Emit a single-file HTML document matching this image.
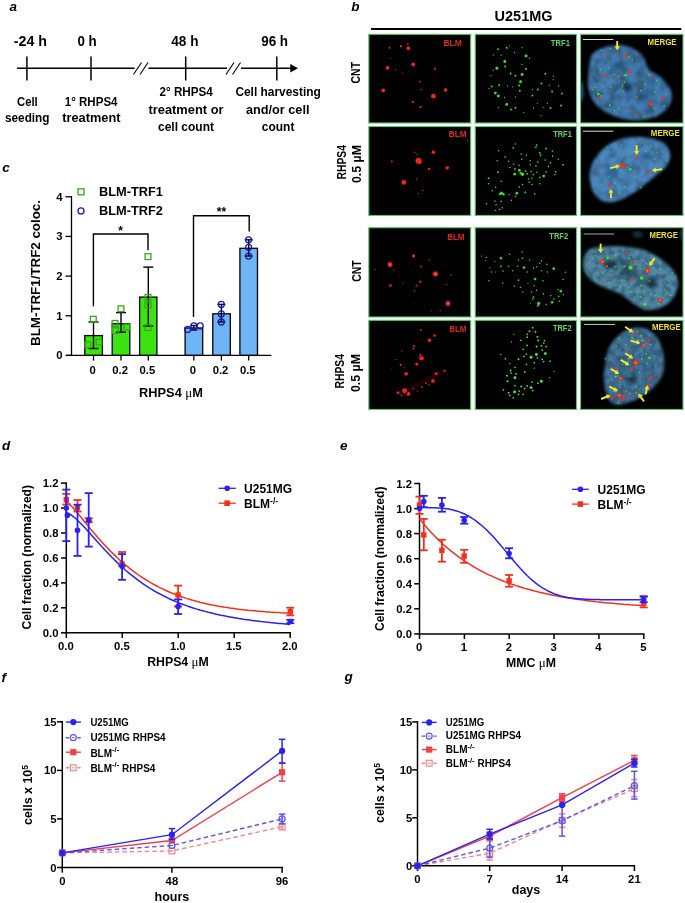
<!DOCTYPE html>
<html><head><meta charset="utf-8"><title>Figure</title>
<style>html,body{margin:0;padding:0;background:#fff}svg{display:block}text{font-family:'Liberation Sans', sans-serif;font-weight:bold}</style>
</head><body>
<svg width="685" height="903" viewBox="0 0 685 903">
<defs>
<filter id="bl" x="-20%" y="-20%" width="140%" height="140%"><feGaussianBlur stdDeviation="0.45"/></filter>
<filter id="bn" x="-20%" y="-20%" width="140%" height="140%"><feGaussianBlur stdDeviation="1.6"/></filter>
<filter id="bn2" x="-50%" y="-50%" width="200%" height="200%"><feGaussianBlur stdDeviation="2.2"/></filter>
<filter id="nz" x="0" y="0" width="100%" height="100%"><feTurbulence type="fractalNoise" baseFrequency="0.11" numOctaves="2" seed="4"/><feColorMatrix type="matrix" values="0 0 0 0 0.03  0 0 0 0 0.09  0 0 0 0 0.17  2.6 0 0 0 -0.95"/></filter>
<filter id="nz2" x="0" y="0" width="100%" height="100%"><feTurbulence type="fractalNoise" baseFrequency="0.16" numOctaves="2" seed="11"/><feColorMatrix type="matrix" values="0 0 0 0 0.01  0 0 0 0 0.04  0 0 0 0 0.07  3.0 0 0 0 -1.1"/></filter>
</defs>
<rect width="685" height="903" fill="#fff"/>
<text x="9.6" y="10.5" font-size="13.5" font-style="italic">a</text>
<text x="351.3" y="10.7" font-size="13.5" font-style="italic">b</text>
<text x="2.3" y="172.0" font-size="13.5" font-style="italic">c</text>
<text x="1.9" y="450.0" font-size="13.5" font-style="italic">d</text>
<text x="340.0" y="450.0" font-size="13.5" font-style="italic">e</text>
<text x="1.5" y="681.5" font-size="13.5" font-style="italic">f</text>
<text x="344.5" y="680.6" font-size="13.5" font-style="italic">g</text>
<line x1="17.0" y1="68.3" x2="292.0" y2="68.3" stroke="#000" stroke-width="1.5"/>
<polygon points="298,68.3 290.3,64 290.3,72.6" fill="#000"/>
<line x1="26.9" y1="56.5" x2="26.9" y2="80.5" stroke="#000" stroke-width="1.5"/>
<line x1="91.0" y1="56.5" x2="91.0" y2="80.5" stroke="#000" stroke-width="1.5"/>
<line x1="185.7" y1="56.5" x2="185.7" y2="80.5" stroke="#000" stroke-width="1.5"/>
<line x1="276.8" y1="56.5" x2="276.8" y2="80.5" stroke="#000" stroke-width="1.5"/>
<rect x="134.5" y="66" width="14" height="5" fill="#fff"/>
<line x1="133.5" y1="74.5" x2="141.5" y2="62.5" stroke="#000" stroke-width="1.1"/>
<line x1="140.0" y1="74.5" x2="148.0" y2="62.5" stroke="#000" stroke-width="1.1"/>
<rect x="227.0" y="66" width="14" height="5" fill="#fff"/>
<line x1="226.0" y1="74.5" x2="234.0" y2="62.5" stroke="#000" stroke-width="1.1"/>
<line x1="232.5" y1="74.5" x2="240.5" y2="62.5" stroke="#000" stroke-width="1.1"/>
<text x="13.8" y="46.0" font-size="14" textLength="33.2" lengthAdjust="spacingAndGlyphs">-24 h</text>
<text x="77.4" y="46.0" font-size="14" textLength="19.3" lengthAdjust="spacingAndGlyphs">0 h</text>
<text x="171.3" y="46.0" font-size="14" textLength="27.2" lengthAdjust="spacingAndGlyphs">48 h</text>
<text x="261.2" y="46.0" font-size="14" textLength="26.9" lengthAdjust="spacingAndGlyphs">96 h</text>
<text x="17.1" y="106.0" font-size="12.5" textLength="20.6" lengthAdjust="spacingAndGlyphs">Cell</text>
<text x="5.0" y="122.2" font-size="12.5" textLength="44.5" lengthAdjust="spacingAndGlyphs">seeding</text>
<text x="64.8" y="106.0" font-size="12.5" textLength="52.7" lengthAdjust="spacingAndGlyphs">1° RHPS4</text>
<text x="62.3" y="122.2" font-size="12.5" textLength="58.2" lengthAdjust="spacingAndGlyphs">treatment</text>
<text x="159.5" y="96.1" font-size="12.5" textLength="53.3" lengthAdjust="spacingAndGlyphs">2° RHPS4</text>
<text x="148.5" y="113.5" font-size="12.5" textLength="75.0" lengthAdjust="spacingAndGlyphs">treatment or</text>
<text x="158.0" y="130.5" font-size="12.5" textLength="56.0" lengthAdjust="spacingAndGlyphs">cell count</text>
<text x="235.4" y="96.1" font-size="12.5" textLength="85.4" lengthAdjust="spacingAndGlyphs">Cell harvesting</text>
<text x="246.0" y="113.5" font-size="12.5" textLength="63.5" lengthAdjust="spacingAndGlyphs">and/or cell</text>
<text x="261.8" y="130.5" font-size="12.5" textLength="32.6" lengthAdjust="spacingAndGlyphs">count</text>
<text x="494.6" y="21.4" font-size="14.5" textLength="58.0" lengthAdjust="spacingAndGlyphs">U251MG</text>
<line x1="371.1" y1="28.9" x2="681.3" y2="28.9" stroke="#000" stroke-width="2"/>
<text x="360.5" y="72.7" font-size="12" text-anchor="middle" textLength="21.5" lengthAdjust="spacingAndGlyphs" transform="rotate(-90 360.5 72.7)">CNT</text>
<text x="346.3" y="162.3" font-size="12" text-anchor="middle" textLength="34.5" lengthAdjust="spacingAndGlyphs" transform="rotate(-90 346.3 162.3)">RHPS4</text>
<text x="360.5" y="164.0" font-size="12" text-anchor="middle" textLength="38.0" lengthAdjust="spacingAndGlyphs" transform="rotate(-90 360.5 164.0)">0.5 µM</text>
<text x="360.5" y="271.0" font-size="12" text-anchor="middle" textLength="21.5" lengthAdjust="spacingAndGlyphs" transform="rotate(-90 360.5 271.0)">CNT</text>
<text x="344.3" y="371.3" font-size="12" text-anchor="middle" textLength="34.5" lengthAdjust="spacingAndGlyphs" transform="rotate(-90 344.3 371.3)">RHPS4</text>
<text x="360.0" y="373.0" font-size="12" text-anchor="middle" textLength="38.0" lengthAdjust="spacingAndGlyphs" transform="rotate(-90 360.0 373.0)">0.5 µM</text>
<rect x="368.8" y="34.3" width="101.9" height="88.7" fill="#000" stroke="#56c968" stroke-width="1.1"/>
<g fill="#f02818" filter="url(#bl)" opacity="1.0"><circle cx="408.3" cy="48.2" r="1.88"/><circle cx="401.0" cy="46.2" r="1.10"/><circle cx="389.5" cy="47.7" r="0.94"/><circle cx="413.3" cy="64.5" r="1.88"/><circle cx="387.5" cy="67.8" r="1.88"/><circle cx="434.9" cy="68.8" r="1.10"/><circle cx="383.2" cy="90.4" r="1.88"/><circle cx="433.4" cy="96.2" r="2.35"/><circle cx="445.5" cy="89.9" r="1.73"/><circle cx="419.8" cy="81.6" r="0.94"/><circle cx="420.9" cy="89.6" r="0.78"/><circle cx="412.8" cy="101.9" r="1.10"/><circle cx="420.4" cy="107.0" r="1.10"/><circle cx="395.7" cy="69.8" r="0.63"/><circle cx="402.3" cy="72.1" r="0.63"/><circle cx="390.2" cy="57.8" r="0.63"/><circle cx="407.8" cy="43.9" r="0.78"/></g>
<text x="443.4" y="46.4" font-size="8.8" font-weight="bold" fill="#e2281a" textLength="18.4" lengthAdjust="spacingAndGlyphs">BLM</text>
<rect x="475.2" y="34.3" width="101.3" height="88.7" fill="#000" stroke="#56c968" stroke-width="1.1"/>
<g fill="#3fe02a" filter="url(#bl)" opacity="1.0"><circle cx="498.0" cy="49.2" r="0.98"/><circle cx="506.7" cy="47.7" r="0.98"/><circle cx="509.5" cy="45.8" r="0.64"/><circle cx="514.6" cy="52.5" r="0.64"/><circle cx="522.1" cy="47.7" r="0.64"/><circle cx="526.1" cy="56.0" r="1.44"/><circle cx="529.5" cy="58.4" r="0.64"/><circle cx="501.2" cy="55.2" r="0.64"/><circle cx="493.3" cy="54.9" r="0.64"/><circle cx="504.8" cy="61.5" r="1.44"/><circle cx="505.1" cy="66.6" r="0.98"/><circle cx="496.9" cy="68.3" r="1.44"/><circle cx="493.3" cy="70.2" r="0.64"/><circle cx="490.9" cy="75.7" r="0.64"/><circle cx="510.6" cy="73.4" r="0.98"/><circle cx="515.4" cy="75.7" r="0.98"/><circle cx="522.1" cy="74.5" r="1.44"/><circle cx="522.1" cy="64.4" r="0.64"/><circle cx="526.1" cy="69.1" r="0.98"/><circle cx="545.3" cy="73.8" r="0.98"/><circle cx="553.2" cy="76.0" r="0.64"/><circle cx="553.2" cy="79.7" r="0.64"/><circle cx="520.6" cy="81.7" r="1.44"/><circle cx="519.0" cy="85.5" r="0.98"/><circle cx="499.1" cy="85.2" r="0.98"/><circle cx="491.7" cy="86.4" r="0.98"/><circle cx="489.0" cy="88.7" r="0.64"/><circle cx="507.5" cy="86.0" r="0.64"/><circle cx="512.7" cy="86.8" r="0.64"/><circle cx="541.4" cy="83.6" r="0.98"/><circle cx="537.9" cy="89.6" r="0.98"/><circle cx="532.7" cy="89.6" r="0.64"/><circle cx="519.8" cy="90.7" r="0.98"/><circle cx="532.4" cy="95.4" r="0.98"/><circle cx="495.3" cy="93.1" r="1.44"/><circle cx="498.3" cy="95.9" r="1.44"/><circle cx="504.6" cy="97.5" r="0.64"/><circle cx="515.4" cy="97.0" r="0.64"/><circle cx="552.1" cy="91.5" r="0.98"/><circle cx="561.9" cy="93.5" r="0.98"/><circle cx="549.3" cy="85.2" r="0.64"/><circle cx="558.7" cy="86.0" r="0.64"/><circle cx="506.7" cy="104.4" r="1.44"/><circle cx="510.9" cy="109.6" r="0.98"/><circle cx="515.4" cy="107.7" r="0.98"/><circle cx="498.5" cy="107.3" r="0.64"/><circle cx="533.5" cy="108.0" r="0.64"/><circle cx="537.4" cy="103.6" r="0.64"/><circle cx="543.7" cy="107.3" r="0.64"/><circle cx="550.5" cy="108.0" r="0.98"/><circle cx="547.4" cy="103.3" r="0.64"/><circle cx="561.1" cy="105.4" r="0.98"/><circle cx="523.7" cy="112.3" r="0.64"/><circle cx="541.1" cy="115.6" r="0.64"/></g>
<text x="550.8" y="45.8" font-size="8.8" font-weight="bold" fill="#5fd657" textLength="19.2" lengthAdjust="spacingAndGlyphs">TRF1</text>
<rect x="580.5" y="34.3" width="102.5" height="88.7" fill="#000" stroke="#56c968" stroke-width="1.1"/>
<clipPath id="k02"><rect x="581.0" y="34.8" width="101.5" height="87.7"/></clipPath>
<mask id="mk02"><path d="M588.4 77.3C589.0 71.3 588.4 59.0 592.8 53.6C597.2 48.3 608.5 46.0 614.8 45.0C621.1 43.9 625.9 45.4 630.6 47.3C635.3 49.3 640.2 53.1 643.2 56.8C646.2 60.5 646.1 66.3 648.7 69.4C651.4 72.6 655.4 72.6 659.0 75.7C662.5 78.9 667.9 84.4 670.0 88.3C672.1 92.3 672.4 95.7 671.6 99.4C670.8 103.1 668.7 107.3 665.3 110.4C661.9 113.6 657.1 116.7 651.1 118.3C645.1 119.9 636.1 120.7 629.0 119.9C621.9 119.1 614.3 116.5 608.5 113.6C602.8 110.7 597.6 106.5 594.3 102.5C591.1 98.6 589.8 94.1 588.8 89.9C587.8 85.7 587.7 83.3 588.4 77.3Z" fill="#fff" filter="url(#bn)"/></mask>
<g clip-path="url(#k02)">
<ellipse cx="580.2" cy="91.5" rx="3.5" ry="11.0" fill="#2d5f94" filter="url(#bn)" opacity="0.8"/>
<g mask="url(#mk02)">
<rect x="580.0" y="33.8" width="103.5" height="89.7" fill="#407aB0"/>
<rect x="580.0" y="33.8" width="103.5" height="89.7" filter="url(#nz)" opacity="0.85"/>
<ellipse cx="627.5" cy="87.5" rx="3.5" ry="4.4" fill="#0d1d33" filter="url(#bn2)" opacity="0.8"/>
<ellipse cx="618.0" cy="66.3" rx="6.3" ry="3.9" fill="#1f4570" filter="url(#bn2)" opacity="0.6"/>
<ellipse cx="643.2" cy="96.2" rx="5.5" ry="3.9" fill="#1f4570" filter="url(#bn2)" opacity="0.55"/>
<ellipse cx="652.7" cy="82.0" rx="4.7" ry="3.2" fill="#2a5a8a" filter="url(#bn2)" opacity="0.5"/>
<ellipse cx="608.5" cy="82.0" rx="3.9" ry="6.3" fill="#5590cc" filter="url(#bn2)" opacity="0.5"/>
<ellipse cx="624.3" cy="105.7" rx="9.5" ry="3.9" fill="#5590cc" filter="url(#bn2)" opacity="0.45"/>
</g></g>
<g fill="#48e02e" filter="url(#bl)" opacity="1.0"><circle cx="601.4" cy="50.2" r="0.75"/><circle cx="610.1" cy="48.6" r="0.75"/><circle cx="628.7" cy="57.1" r="0.86"/><circle cx="632.2" cy="59.2" r="0.75"/><circle cx="608.2" cy="62.3" r="0.75"/><circle cx="608.5" cy="67.5" r="0.75"/><circle cx="600.3" cy="69.4" r="0.86"/><circle cx="614.1" cy="74.6" r="0.75"/><circle cx="625.6" cy="75.2" r="1.27"/><circle cx="618.8" cy="76.5" r="0.75"/><circle cx="624.3" cy="82.0" r="0.86"/><circle cx="622.7" cy="84.4" r="0.75"/><circle cx="622.4" cy="86.4" r="0.75"/><circle cx="602.2" cy="86.3" r="0.75"/><circle cx="594.3" cy="87.5" r="0.75"/><circle cx="592.8" cy="89.6" r="0.75"/><circle cx="610.6" cy="87.1" r="0.75"/><circle cx="623.0" cy="91.5" r="0.75"/><circle cx="644.8" cy="84.4" r="0.75"/><circle cx="640.9" cy="90.4" r="0.75"/><circle cx="655.4" cy="92.3" r="0.75"/><circle cx="665.6" cy="94.3" r="0.75"/><circle cx="598.3" cy="93.9" r="1.27"/><circle cx="601.4" cy="95.9" r="0.86"/><circle cx="609.8" cy="105.2" r="0.86"/><circle cx="614.5" cy="110.4" r="0.75"/><circle cx="618.5" cy="108.8" r="0.75"/><circle cx="664.2" cy="106.0" r="0.75"/><circle cx="654.3" cy="108.4" r="0.75"/><circle cx="644.5" cy="116.4" r="0.75"/><circle cx="636.1" cy="97.0" r="0.75"/><circle cx="656.6" cy="80.5" r="0.75"/><circle cx="648.7" cy="74.9" r="0.75"/></g>
<g fill="#f0301c" filter="url(#bl)" opacity="1.0"><circle cx="606.2" cy="55.2" r="1.02"/><circle cx="617.7" cy="53.6" r="1.02"/><circle cx="625.1" cy="55.7" r="1.70"/><circle cx="629.8" cy="71.5" r="1.70"/><circle cx="604.1" cy="75.4" r="1.70"/><circle cx="651.9" cy="76.2" r="1.02"/><circle cx="599.9" cy="98.1" r="1.47"/><circle cx="650.3" cy="103.8" r="1.93"/><circle cx="662.5" cy="97.5" r="1.47"/><circle cx="629.5" cy="109.3" r="1.02"/><circle cx="637.4" cy="114.7" r="1.02"/><circle cx="612.5" cy="76.5" r="0.68"/><circle cx="619.3" cy="78.9" r="0.68"/><circle cx="636.9" cy="89.1" r="0.68"/><circle cx="637.7" cy="97.5" r="0.68"/></g>
<line x1="583.0" y1="39.5" x2="613.3" y2="39.5" stroke="#ddd" stroke-width="1"/>
<line x1="617.2" y1="41.0" x2="617.2" y2="46.8" stroke="#f2e82a" stroke-width="1.9"/>
<polygon points="617.2,50.2 614.7,46.3 619.7,46.3" fill="#f2e82a"/>
<text x="647.6" y="45.0" font-size="8.8" font-weight="bold" fill="#ece32c" textLength="29.0" lengthAdjust="spacingAndGlyphs">MERGE</text>
<rect x="368.8" y="126.5" width="101.9" height="89.0" fill="#000" stroke="#56c968" stroke-width="1.1"/>
<g fill="#f52414" filter="url(#bl)" opacity="1.0"><circle cx="418.5" cy="160.8" r="2.96"/><circle cx="419.6" cy="161.8" r="2.17"/><circle cx="433.3" cy="152.3" r="1.77"/><circle cx="403.8" cy="182.4" r="2.46"/><circle cx="446.9" cy="167.9" r="1.58"/><circle cx="448.0" cy="167.6" r="1.18"/><circle cx="429.1" cy="168.9" r="1.18"/><circle cx="391.9" cy="161.5" r="0.99"/><circle cx="414.9" cy="152.2" r="0.79"/><circle cx="417.2" cy="154.5" r="0.59"/><circle cx="416.5" cy="179.3" r="0.69"/><circle cx="422.8" cy="190.5" r="0.69"/><circle cx="418.5" cy="193.5" r="0.59"/><circle cx="467.2" cy="140.7" r="0.59"/></g>
<text x="448.8" y="136.9" font-size="8.8" font-weight="bold" fill="#e2281a" textLength="17.8" lengthAdjust="spacingAndGlyphs">BLM</text>
<rect x="475.2" y="126.5" width="101.3" height="89.0" fill="#000" stroke="#56c968" stroke-width="1.1"/>
<g fill="#3fe02a" filter="url(#bl)" opacity="1.0"><circle cx="515.4" cy="144.0" r="0.80"/><circle cx="513.3" cy="147.8" r="0.92"/><circle cx="536.6" cy="145.1" r="0.92"/><circle cx="535.9" cy="147.4" r="0.80"/><circle cx="546.1" cy="148.5" r="0.92"/><circle cx="498.8" cy="150.6" r="0.80"/><circle cx="552.4" cy="151.1" r="0.80"/><circle cx="539.8" cy="153.0" r="0.92"/><circle cx="540.6" cy="155.3" r="0.92"/><circle cx="526.4" cy="155.3" r="0.80"/><circle cx="521.2" cy="154.1" r="0.80"/><circle cx="552.7" cy="156.1" r="0.80"/><circle cx="505.1" cy="156.9" r="0.80"/><circle cx="558.4" cy="159.3" r="0.80"/><circle cx="497.2" cy="160.8" r="0.80"/><circle cx="508.6" cy="161.3" r="0.80"/><circle cx="521.7" cy="159.3" r="0.80"/><circle cx="530.3" cy="160.8" r="0.80"/><circle cx="537.9" cy="162.1" r="0.80"/><circle cx="545.3" cy="160.1" r="0.80"/><circle cx="550.5" cy="162.9" r="0.80"/><circle cx="563.0" cy="164.8" r="0.92"/><circle cx="513.8" cy="164.0" r="0.80"/><circle cx="519.0" cy="165.3" r="0.80"/><circle cx="530.3" cy="164.8" r="0.80"/><circle cx="535.9" cy="165.9" r="0.80"/><circle cx="548.5" cy="166.4" r="0.80"/><circle cx="509.8" cy="167.5" r="0.80"/><circle cx="514.9" cy="169.0" r="0.92"/><circle cx="519.3" cy="170.3" r="1.36"/><circle cx="525.6" cy="171.1" r="0.92"/><circle cx="531.1" cy="171.6" r="0.80"/><circle cx="537.0" cy="172.2" r="0.80"/><circle cx="546.1" cy="171.9" r="0.80"/><circle cx="555.6" cy="171.9" r="0.80"/><circle cx="498.0" cy="172.2" r="0.92"/><circle cx="514.6" cy="174.2" r="1.36"/><circle cx="522.5" cy="174.2" r="1.68"/><circle cx="520.6" cy="173.1" r="1.18"/><circle cx="527.2" cy="173.8" r="0.92"/><circle cx="533.5" cy="174.6" r="0.80"/><circle cx="543.7" cy="176.1" r="1.36"/><circle cx="554.8" cy="174.7" r="0.80"/><circle cx="488.6" cy="178.2" r="0.92"/><circle cx="501.2" cy="181.3" r="0.80"/><circle cx="528.4" cy="179.0" r="0.80"/><circle cx="531.9" cy="178.2" r="0.80"/><circle cx="539.8" cy="177.4" r="0.80"/><circle cx="488.6" cy="183.7" r="0.80"/><circle cx="529.1" cy="182.1" r="0.80"/><circle cx="522.5" cy="184.5" r="0.80"/><circle cx="531.9" cy="184.5" r="0.80"/><circle cx="539.8" cy="183.7" r="0.80"/><circle cx="495.6" cy="187.3" r="0.80"/><circle cx="492.2" cy="190.8" r="0.80"/><circle cx="519.3" cy="186.9" r="0.80"/><circle cx="525.3" cy="192.4" r="0.92"/><circle cx="501.5" cy="193.2" r="1.58"/><circle cx="503.5" cy="194.3" r="1.18"/><circle cx="499.6" cy="194.3" r="0.99"/><circle cx="516.9" cy="193.2" r="1.36"/><circle cx="534.8" cy="193.9" r="0.80"/><circle cx="509.1" cy="194.7" r="0.80"/><circle cx="515.4" cy="196.3" r="0.80"/><circle cx="511.4" cy="200.3" r="0.80"/><circle cx="501.2" cy="201.4" r="0.80"/><circle cx="494.9" cy="201.0" r="0.80"/><circle cx="486.5" cy="203.7" r="0.80"/><circle cx="496.0" cy="204.7" r="0.80"/><circle cx="502.3" cy="207.8" r="0.80"/><circle cx="499.6" cy="209.4" r="0.80"/><circle cx="495.6" cy="210.5" r="0.80"/></g>
<text x="553.2" y="136.9" font-size="8.8" font-weight="bold" fill="#5fd657" textLength="18.6" lengthAdjust="spacingAndGlyphs">TRF1</text>
<rect x="580.5" y="126.5" width="102.5" height="89.0" fill="#000" stroke="#56c968" stroke-width="1.1"/>
<clipPath id="k12"><rect x="581.0" y="127.0" width="101.5" height="88.0"/></clipPath>
<mask id="mk12"><path d="M589.6 178.2C589.4 172.9 590.4 167.4 592.8 162.4C595.1 157.4 599.1 152.2 603.8 148.2C608.5 144.3 614.6 140.6 621.1 138.8C627.7 136.9 636.4 136.7 643.2 137.2C650.1 137.7 657.7 139.3 662.1 141.9C666.6 144.5 669.2 149.0 670.0 153.0C670.8 156.9 669.8 161.4 666.9 165.6C664.0 169.8 657.7 174.0 652.7 178.2C647.7 182.4 642.4 187.1 636.9 190.8C631.4 194.5 624.8 198.4 619.6 200.3C614.3 202.1 609.6 202.9 605.4 201.8C601.2 200.8 597.0 197.9 594.3 193.9C591.7 190.0 589.9 183.4 589.6 178.2Z" fill="#fff" filter="url(#bn)"/></mask>
<g clip-path="url(#k12)">
<g mask="url(#mk12)">
<rect x="580.0" y="126.0" width="103.5" height="90.0" fill="#4a86bd"/>
<rect x="580.0" y="126.0" width="103.5" height="90.0" filter="url(#nz)" opacity="0.6"/>
<ellipse cx="610.9" cy="174.2" rx="7.1" ry="4.7" fill="#2a5a8c" filter="url(#bn2)" opacity="0.7"/>
<ellipse cx="647.2" cy="156.1" rx="5.5" ry="4.4" fill="#2a5a8c" filter="url(#bn2)" opacity="0.7"/>
<ellipse cx="627.5" cy="178.2" rx="4.7" ry="3.2" fill="#35699c" filter="url(#bn2)" opacity="0.5"/>
<ellipse cx="624.3" cy="151.4" rx="9.5" ry="4.7" fill="#5c9ad6" filter="url(#bn2)" opacity="0.4"/>
</g></g>
<g fill="#48e02e" filter="url(#bl)" opacity="1.0"><circle cx="630.3" cy="169.2" r="1.19"/><circle cx="624.3" cy="186.9" r="0.80"/><circle cx="645.9" cy="151.4" r="0.80"/><circle cx="642.0" cy="142.7" r="0.70"/><circle cx="621.1" cy="145.1" r="0.70"/><circle cx="651.1" cy="145.9" r="0.70"/><circle cx="607.0" cy="147.4" r="0.70"/><circle cx="666.9" cy="160.5" r="0.70"/><circle cx="609.3" cy="176.6" r="0.70"/><circle cx="614.8" cy="182.9" r="0.70"/><circle cx="632.2" cy="186.1" r="0.70"/><circle cx="640.9" cy="187.6" r="0.80"/><circle cx="620.4" cy="193.2" r="0.70"/><circle cx="601.4" cy="184.5" r="0.70"/><circle cx="657.4" cy="152.2" r="0.70"/><circle cx="654.3" cy="159.3" r="0.70"/><circle cx="629.0" cy="155.3" r="0.70"/><circle cx="605.4" cy="181.3" r="0.70"/><circle cx="635.3" cy="176.6" r="0.70"/><circle cx="627.5" cy="167.1" r="0.70"/></g>
<g fill="#f0301c" filter="url(#bl)" opacity="1.0"><circle cx="622.7" cy="165.6" r="2.49"/><circle cx="624.0" cy="166.5" r="1.81"/><circle cx="636.6" cy="157.4" r="1.25"/><circle cx="648.7" cy="172.2" r="1.25"/><circle cx="609.0" cy="185.6" r="1.70"/><circle cx="632.2" cy="173.1" r="0.79"/><circle cx="598.3" cy="166.0" r="0.57"/></g>
<line x1="583.0" y1="131.2" x2="613.3" y2="131.2" stroke="#ddd" stroke-width="1"/>
<line x1="636.6" y1="145.1" x2="636.6" y2="151.6" stroke="#f2e82a" stroke-width="1.9"/>
<polygon points="636.6,155.0 634.1,151.1 639.1,151.1" fill="#f2e82a"/>
<line x1="610.1" y1="168.2" x2="616.6" y2="166.6" stroke="#f2e82a" stroke-width="1.9"/>
<polygon points="619.9,165.7 616.7,169.1 615.5,164.3" fill="#f2e82a"/>
<line x1="662.1" y1="169.2" x2="655.4" y2="170.1" stroke="#f2e82a" stroke-width="1.9"/>
<polygon points="652.0,170.6 655.6,167.6 656.3,172.5" fill="#f2e82a"/>
<line x1="610.9" y1="197.9" x2="610.9" y2="192.3" stroke="#f2e82a" stroke-width="1.9"/>
<polygon points="610.9,188.9 613.4,192.8 608.4,192.8" fill="#f2e82a"/>
<text x="650.8" y="135.6" font-size="8.8" font-weight="bold" fill="#ece32c" textLength="29.0" lengthAdjust="spacingAndGlyphs">MERGE</text>
<rect x="368.8" y="227.7" width="101.9" height="89.3" fill="#000" stroke="#56c968" stroke-width="1.1"/>
<g fill="#c81c1c" filter="url(#bl)" opacity="1.0"><circle cx="390.0" cy="264.4" r="2.56"/><circle cx="435.4" cy="273.9" r="2.76"/><circle cx="448.0" cy="303.4" r="2.56"/><circle cx="413.6" cy="255.9" r="1.58"/><circle cx="390.4" cy="285.4" r="1.48"/><circle cx="420.4" cy="281.8" r="1.28"/><circle cx="416.5" cy="285.7" r="1.08"/><circle cx="421.2" cy="266.5" r="0.99"/><circle cx="414.4" cy="290.9" r="0.89"/><circle cx="375.5" cy="269.5" r="0.79"/><circle cx="393.6" cy="270.4" r="0.69"/><circle cx="429.1" cy="260.2" r="0.69"/><circle cx="451.1" cy="275.1" r="0.89"/><circle cx="403.1" cy="282.9" r="0.69"/><circle cx="446.4" cy="284.4" r="0.69"/><circle cx="440.1" cy="310.6" r="0.79"/><circle cx="431.4" cy="310.9" r="0.69"/><circle cx="410.1" cy="262.8" r="0.49"/><circle cx="411.7" cy="271.5" r="0.49"/><circle cx="398.3" cy="275.5" r="0.49"/><circle cx="442.5" cy="263.9" r="0.49"/><circle cx="414.9" cy="303.0" r="0.49"/><circle cx="425.1" cy="305.9" r="0.49"/><circle cx="429.1" cy="304.3" r="0.49"/></g>
<g fill="#ff6a6a" filter="url(#bl)"><circle cx="390.0" cy="264.4" r="1.02"/><circle cx="435.4" cy="273.9" r="1.10"/><circle cx="448.0" cy="303.4" r="1.02"/><circle cx="413.6" cy="255.9" r="0.63"/></g>
<text x="447.2" y="239.5" font-size="8.8" font-weight="bold" fill="#e2281a" textLength="17.3" lengthAdjust="spacingAndGlyphs">BLM</text>
<rect x="475.2" y="227.7" width="101.3" height="89.3" fill="#000" stroke="#56c968" stroke-width="1.1"/>
<g fill="#3ad22a" filter="url(#bl)" opacity="1.0"><circle cx="500.9" cy="258.1" r="1.36"/><circle cx="522.5" cy="258.1" r="0.92"/><circle cx="522.1" cy="252.1" r="0.80"/><circle cx="509.5" cy="254.2" r="0.80"/><circle cx="486.5" cy="257.3" r="0.80"/><circle cx="481.5" cy="256.1" r="0.60"/><circle cx="485.4" cy="260.5" r="0.60"/><circle cx="518.5" cy="260.0" r="0.80"/><circle cx="529.5" cy="260.0" r="0.80"/><circle cx="541.4" cy="260.9" r="0.80"/><circle cx="539.8" cy="263.3" r="0.80"/><circle cx="494.9" cy="261.6" r="0.60"/><circle cx="500.9" cy="266.3" r="0.92"/><circle cx="508.6" cy="266.3" r="0.80"/><circle cx="517.7" cy="266.3" r="0.80"/><circle cx="524.0" cy="267.6" r="1.36"/><circle cx="533.5" cy="267.9" r="0.80"/><circle cx="536.6" cy="266.8" r="0.80"/><circle cx="553.7" cy="268.7" r="1.36"/><circle cx="546.9" cy="264.4" r="0.80"/><circle cx="490.1" cy="267.9" r="0.60"/><circle cx="491.7" cy="272.0" r="0.80"/><circle cx="495.6" cy="272.0" r="0.60"/><circle cx="503.1" cy="271.0" r="0.80"/><circle cx="512.7" cy="270.7" r="0.80"/><circle cx="527.2" cy="272.0" r="0.80"/><circle cx="541.4" cy="270.7" r="0.80"/><circle cx="547.4" cy="272.0" r="0.80"/><circle cx="565.5" cy="272.3" r="0.80"/><circle cx="535.1" cy="279.1" r="1.36"/><circle cx="518.5" cy="280.2" r="0.92"/><circle cx="542.9" cy="280.7" r="0.80"/><circle cx="563.1" cy="279.4" r="0.80"/><circle cx="489.0" cy="280.7" r="0.80"/><circle cx="502.7" cy="283.0" r="0.80"/><circle cx="514.3" cy="286.0" r="0.80"/><circle cx="520.4" cy="287.3" r="0.80"/><circle cx="534.0" cy="285.7" r="0.80"/><circle cx="528.0" cy="283.3" r="0.60"/><circle cx="522.8" cy="292.0" r="0.80"/><circle cx="531.6" cy="292.0" r="0.80"/><circle cx="536.6" cy="290.4" r="0.80"/><circle cx="543.4" cy="293.9" r="0.80"/><circle cx="557.9" cy="289.6" r="0.80"/><circle cx="560.8" cy="291.2" r="1.36"/><circle cx="563.4" cy="294.8" r="0.80"/><circle cx="558.7" cy="296.4" r="0.80"/><circle cx="550.8" cy="295.6" r="0.80"/><circle cx="533.5" cy="297.2" r="0.92"/><circle cx="532.7" cy="299.1" r="0.80"/><circle cx="538.7" cy="303.4" r="1.68"/><circle cx="537.9" cy="305.7" r="0.99"/><circle cx="552.1" cy="302.3" r="1.36"/><circle cx="546.1" cy="304.6" r="0.80"/><circle cx="530.3" cy="303.0" r="0.60"/><circle cx="554.0" cy="299.1" r="0.80"/><circle cx="559.5" cy="301.2" r="0.80"/></g>
<text x="549.3" y="238.9" font-size="8.8" font-weight="bold" fill="#5fd657" textLength="18.9" lengthAdjust="spacingAndGlyphs">TRF2</text>
<rect x="580.5" y="227.7" width="102.5" height="89.3" fill="#000" stroke="#56c968" stroke-width="1.1"/>
<clipPath id="k22"><rect x="581.0" y="228.2" width="101.5" height="88.3"/></clipPath>
<mask id="mk22"><path d="M583.3 259.7C584.0 256.3 584.9 252.4 588.0 250.2C591.2 248.1 596.2 247.3 602.2 246.8C608.3 246.2 617.2 246.2 624.3 246.8C631.4 247.3 638.5 248.1 644.8 250.2C651.1 252.4 657.1 256.0 662.1 259.7C667.1 263.4 672.1 268.1 674.8 272.3C677.4 276.5 678.4 280.7 678.2 284.9C678.0 289.1 676.2 293.8 673.5 297.5C670.8 301.3 666.7 305.2 662.1 307.3C657.6 309.4 651.1 310.7 646.4 310.1C641.6 309.6 638.0 306.5 633.8 303.8C629.6 301.2 625.9 297.0 621.1 294.4C616.4 291.7 610.4 290.4 605.4 288.1C600.4 285.7 594.7 283.1 591.2 280.2C587.6 277.3 585.4 274.1 584.1 270.7C582.8 267.3 582.6 263.1 583.3 259.7Z" fill="#fff" filter="url(#bn)"/></mask>
<g clip-path="url(#k22)">
<ellipse cx="637.7" cy="234.5" rx="5.5" ry="3.2" fill="#1f4257" filter="url(#bn)" opacity="0.7"/>
<ellipse cx="681.8" cy="234.5" rx="1.6" ry="6.3" fill="#2a5a78" filter="url(#bn)" opacity="0.8"/>
<g mask="url(#mk22)">
<rect x="580.0" y="227.2" width="103.5" height="90.3" fill="#5288a4"/>
<rect x="580.0" y="227.2" width="103.5" height="90.3" filter="url(#nz2)" opacity="0.4"/>
<ellipse cx="610.1" cy="264.4" rx="7.1" ry="3.9" fill="#0a1822" filter="url(#bn2)" opacity="0.75"/>
<ellipse cx="629.0" cy="272.3" rx="9.5" ry="5.5" fill="#14303f" filter="url(#bn2)" opacity="0.6"/>
<ellipse cx="651.1" cy="283.3" rx="6.3" ry="4.7" fill="#0a1822" filter="url(#bn2)" opacity="0.7"/>
<ellipse cx="640.1" cy="278.6" rx="4.7" ry="4.7" fill="#1b3a4c" filter="url(#bn2)" opacity="0.5"/>
<ellipse cx="624.3" cy="262.8" rx="6.3" ry="3.2" fill="#14303f" filter="url(#bn2)" opacity="0.6"/>
</g></g>
<g fill="#48e02e" filter="url(#bl)" opacity="1.0"><circle cx="607.7" cy="258.1" r="1.27"/><circle cx="630.6" cy="267.6" r="2.17"/><circle cx="629.0" cy="258.6" r="0.86"/><circle cx="641.6" cy="278.1" r="1.77"/><circle cx="645.1" cy="304.6" r="1.77"/><circle cx="640.9" cy="297.1" r="0.86"/><circle cx="660.1" cy="269.1" r="0.86"/><circle cx="607.0" cy="266.0" r="0.86"/><circle cx="614.8" cy="266.8" r="0.75"/><circle cx="624.3" cy="266.3" r="0.75"/><circle cx="619.6" cy="270.7" r="0.75"/><circle cx="646.4" cy="263.6" r="0.75"/><circle cx="640.1" cy="268.4" r="0.75"/><circle cx="598.3" cy="272.3" r="0.75"/><circle cx="602.2" cy="272.3" r="0.75"/><circle cx="609.3" cy="283.3" r="0.75"/><circle cx="621.9" cy="280.2" r="0.75"/><circle cx="625.1" cy="281.0" r="0.75"/><circle cx="620.4" cy="286.5" r="0.75"/><circle cx="627.5" cy="288.1" r="0.75"/><circle cx="640.9" cy="285.7" r="0.75"/><circle cx="631.4" cy="292.0" r="0.75"/><circle cx="637.7" cy="292.5" r="0.75"/><circle cx="643.2" cy="291.2" r="0.75"/><circle cx="650.3" cy="294.4" r="0.75"/><circle cx="655.8" cy="295.2" r="0.75"/><circle cx="666.9" cy="292.0" r="0.75"/><circle cx="664.5" cy="289.6" r="0.75"/><circle cx="672.4" cy="273.1" r="0.75"/><circle cx="669.2" cy="280.2" r="0.75"/><circle cx="592.8" cy="258.1" r="0.75"/><circle cx="615.6" cy="255.0" r="0.75"/><circle cx="595.9" cy="281.0" r="0.75"/><circle cx="649.5" cy="281.0" r="0.75"/><circle cx="658.2" cy="303.4" r="0.75"/><circle cx="670.8" cy="295.5" r="0.75"/><circle cx="636.1" cy="260.5" r="0.75"/></g>
<g fill="#e8301c" filter="url(#bl)" opacity="1.0"><circle cx="602.2" cy="261.6" r="2.38"/><circle cx="647.5" cy="270.7" r="2.61"/><circle cx="660.1" cy="300.2" r="2.15"/><circle cx="633.0" cy="279.1" r="1.25"/><circle cx="633.0" cy="263.3" r="1.25"/><circle cx="625.9" cy="253.1" r="1.25"/><circle cx="606.2" cy="266.8" r="1.02"/><circle cx="603.0" cy="282.5" r="0.79"/><circle cx="629.0" cy="282.5" r="0.79"/><circle cx="588.0" cy="266.3" r="0.57"/></g>
<g fill="#ff9a3a" filter="url(#bl)"><circle cx="602.2" cy="261.6" r="0.83"/><circle cx="647.5" cy="270.7" r="0.91"/><circle cx="660.1" cy="300.2" r="0.75"/></g>
<line x1="583.6" y1="234.0" x2="614.1" y2="234.0" stroke="#aaa" stroke-width="1"/>
<line x1="600.6" y1="243.6" x2="600.6" y2="249.7" stroke="#f2e82a" stroke-width="1.9"/>
<polygon points="600.6,253.1 598.1,249.2 603.1,249.2" fill="#f2e82a"/>
<line x1="654.6" y1="258.1" x2="651.2" y2="262.9" stroke="#f2e82a" stroke-width="1.9"/>
<polygon points="649.2,265.7 649.4,261.0 653.5,263.9" fill="#f2e82a"/>
<text x="649.5" y="237.9" font-size="8.8" font-weight="bold" fill="#ece32c" textLength="28.4" lengthAdjust="spacingAndGlyphs">MERGE</text>
<rect x="368.8" y="320.3" width="101.9" height="89.2" fill="#000" stroke="#56c968" stroke-width="1.1"/>
<line x1="399.9" y1="393.5" x2="440.1" y2="373.0" stroke="#a01208" stroke-width="2.2" stroke-linecap="round" filter="url(#bn)" opacity="0.38"/>
<g fill="#ee2216" filter="url(#bl)" opacity="1.0"><circle cx="421.5" cy="358.3" r="2.27"/><circle cx="429.4" cy="340.3" r="1.77"/><circle cx="434.6" cy="335.6" r="1.28"/><circle cx="416.8" cy="364.3" r="1.48"/><circle cx="406.2" cy="373.8" r="1.87"/><circle cx="433.0" cy="380.9" r="1.87"/><circle cx="436.2" cy="373.8" r="1.48"/><circle cx="444.4" cy="370.9" r="1.08"/><circle cx="404.6" cy="390.8" r="2.46"/><circle cx="408.6" cy="393.9" r="1.87"/><circle cx="398.0" cy="392.7" r="1.48"/><circle cx="400.7" cy="364.8" r="1.08"/><circle cx="414.1" cy="345.9" r="1.08"/><circle cx="413.3" cy="348.5" r="0.89"/><circle cx="420.9" cy="329.9" r="0.89"/><circle cx="401.9" cy="350.9" r="0.69"/><circle cx="396.0" cy="359.6" r="0.69"/><circle cx="404.2" cy="367.8" r="0.69"/><circle cx="420.4" cy="354.8" r="1.08"/><circle cx="425.9" cy="383.2" r="0.89"/><circle cx="422.0" cy="387.2" r="0.89"/><circle cx="413.3" cy="388.7" r="0.69"/><circle cx="391.7" cy="369.0" r="0.49"/><circle cx="417.2" cy="391.1" r="0.69"/><circle cx="429.1" cy="384.8" r="0.69"/><circle cx="401.5" cy="395.4" r="0.79"/></g>
<text x="449.2" y="331.5" font-size="8.8" font-weight="bold" fill="#e2281a" textLength="17.2" lengthAdjust="spacingAndGlyphs">BLM</text>
<rect x="475.2" y="320.3" width="101.3" height="89.2" fill="#000" stroke="#56c968" stroke-width="1.1"/>
<g fill="#52e840" filter="url(#bl)" opacity="1.0"><circle cx="532.7" cy="327.7" r="0.85"/><circle cx="529.5" cy="331.2" r="0.98"/><circle cx="535.4" cy="331.7" r="0.98"/><circle cx="527.2" cy="334.3" r="0.85"/><circle cx="513.8" cy="334.3" r="0.64"/><circle cx="527.2" cy="337.2" r="0.85"/><circle cx="537.4" cy="336.7" r="0.98"/><circle cx="520.9" cy="340.3" r="0.85"/><circle cx="538.2" cy="340.6" r="0.98"/><circle cx="544.5" cy="340.6" r="0.85"/><circle cx="511.4" cy="341.9" r="0.64"/><circle cx="543.7" cy="343.0" r="0.85"/><circle cx="527.2" cy="345.4" r="0.85"/><circle cx="536.6" cy="346.6" r="0.98"/><circle cx="541.4" cy="345.9" r="0.85"/><circle cx="546.1" cy="346.6" r="0.85"/><circle cx="523.2" cy="349.3" r="0.85"/><circle cx="542.2" cy="350.1" r="0.85"/><circle cx="545.3" cy="353.6" r="1.44"/><circle cx="536.3" cy="354.5" r="1.44"/><circle cx="526.4" cy="354.1" r="0.85"/><circle cx="500.7" cy="354.5" r="0.64"/><circle cx="531.1" cy="357.2" r="1.44"/><circle cx="524.0" cy="356.4" r="0.85"/><circle cx="518.5" cy="359.3" r="0.98"/><circle cx="505.4" cy="358.8" r="0.85"/><circle cx="537.4" cy="358.0" r="0.85"/><circle cx="542.2" cy="359.3" r="0.85"/><circle cx="550.0" cy="361.1" r="0.85"/><circle cx="543.7" cy="361.6" r="0.85"/><circle cx="509.8" cy="363.5" r="0.64"/><circle cx="534.3" cy="362.7" r="0.85"/><circle cx="526.4" cy="364.3" r="0.85"/><circle cx="514.9" cy="367.5" r="0.85"/><circle cx="534.3" cy="368.2" r="0.64"/><circle cx="510.6" cy="370.6" r="0.98"/><circle cx="524.8" cy="371.9" r="0.85"/><circle cx="554.0" cy="371.4" r="0.64"/><circle cx="511.1" cy="373.0" r="0.85"/><circle cx="507.0" cy="375.7" r="0.98"/><circle cx="514.9" cy="377.7" r="1.44"/><circle cx="516.1" cy="373.8" r="0.85"/><circle cx="549.3" cy="377.7" r="0.64"/><circle cx="541.4" cy="381.2" r="1.44"/><circle cx="507.5" cy="381.3" r="0.98"/><circle cx="531.9" cy="382.0" r="0.85"/><circle cx="537.9" cy="383.2" r="0.85"/><circle cx="514.9" cy="385.6" r="0.85"/><circle cx="521.2" cy="386.4" r="0.98"/><circle cx="527.2" cy="385.9" r="0.85"/><circle cx="531.1" cy="387.6" r="1.44"/><circle cx="524.5" cy="388.7" r="0.85"/><circle cx="503.5" cy="389.8" r="0.85"/><circle cx="519.3" cy="391.1" r="0.85"/><circle cx="514.6" cy="391.9" r="1.44"/><circle cx="508.6" cy="392.7" r="0.98"/><circle cx="532.7" cy="390.6" r="0.85"/><circle cx="518.5" cy="394.3" r="0.85"/><circle cx="523.2" cy="394.3" r="0.85"/><circle cx="513.3" cy="397.7" r="0.85"/><circle cx="509.8" cy="395.4" r="0.85"/></g>
<text x="552.9" y="330.9" font-size="8.8" font-weight="bold" fill="#5fd657" textLength="18.7" lengthAdjust="spacingAndGlyphs">TRF2</text>
<rect x="580.5" y="320.3" width="102.5" height="89.2" fill="#000" stroke="#56c968" stroke-width="1.1"/>
<clipPath id="k32"><rect x="581.0" y="320.8" width="101.5" height="88.2"/></clipPath>
<mask id="mk32"><path d="M604.6 369.0C605.4 363.8 606.0 354.3 608.5 348.5C611.0 342.8 615.4 337.8 619.6 334.3C623.8 330.9 629.0 328.8 633.8 328.0C638.5 327.2 643.7 327.5 647.9 329.6C652.2 331.7 656.3 335.9 659.0 340.6C661.7 345.4 663.3 352.7 664.0 358.0C664.7 363.2 664.6 367.7 663.2 372.2C661.9 376.6 659.2 380.9 655.8 384.8C652.5 388.7 647.9 392.8 643.2 395.8C638.5 398.9 632.4 401.6 627.5 402.9C622.5 404.3 616.8 405.7 613.3 404.0C609.7 402.3 607.7 396.7 606.2 392.7C604.6 388.7 604.1 384.0 603.8 380.1C603.5 376.1 603.8 374.3 604.6 369.0Z" fill="#fff" filter="url(#bn)"/></mask>
<g clip-path="url(#k32)">
<g mask="url(#mk32)">
<rect x="580.0" y="319.8" width="103.5" height="90.2" fill="#44759c"/>
<rect x="580.0" y="319.8" width="103.5" height="90.2" filter="url(#nz2)" opacity="0.4"/>
<ellipse cx="631.4" cy="379.3" rx="4.4" ry="3.9" fill="#0c1d2c" filter="url(#bn2)" opacity="0.8"/>
<ellipse cx="624.3" cy="364.3" rx="6.3" ry="9.5" fill="#2a567a" filter="url(#bn2)" opacity="0.5"/>
<ellipse cx="647.9" cy="364.3" rx="6.3" ry="7.9" fill="#2f5f85" filter="url(#bn2)" opacity="0.4"/>
<ellipse cx="629.0" cy="395.8" rx="12.6" ry="3.9" fill="#5a5a78" filter="url(#bn2)" opacity="0.5"/>
</g></g>
<g fill="#48e02e" filter="url(#bl)" opacity="1.0"><circle cx="640.9" cy="335.6" r="0.86"/><circle cx="637.7" cy="332.0" r="0.75"/><circle cx="632.2" cy="338.3" r="0.86"/><circle cx="642.4" cy="340.6" r="0.86"/><circle cx="625.9" cy="344.6" r="0.75"/><circle cx="650.3" cy="344.6" r="0.75"/><circle cx="641.6" cy="350.9" r="0.75"/><circle cx="646.4" cy="354.1" r="0.75"/><circle cx="649.5" cy="358.0" r="1.27"/><circle cx="641.6" cy="358.8" r="0.86"/><circle cx="628.2" cy="358.8" r="0.75"/><circle cx="605.4" cy="358.8" r="0.75"/><circle cx="622.7" cy="364.3" r="0.75"/><circle cx="647.2" cy="363.5" r="0.75"/><circle cx="655.8" cy="365.9" r="0.75"/><circle cx="639.3" cy="372.2" r="0.75"/><circle cx="629.8" cy="376.1" r="0.75"/><circle cx="615.6" cy="376.6" r="0.86"/><circle cx="612.0" cy="380.1" r="0.75"/><circle cx="619.6" cy="382.0" r="0.75"/><circle cx="636.1" cy="386.4" r="0.75"/><circle cx="625.9" cy="391.1" r="0.75"/><circle cx="629.8" cy="393.5" r="0.75"/><circle cx="636.1" cy="392.4" r="0.75"/><circle cx="618.0" cy="402.9" r="0.75"/><circle cx="616.4" cy="346.2" r="0.75"/><circle cx="618.8" cy="338.3" r="0.75"/></g>
<g fill="#e8301c" filter="url(#bl)" opacity="1.0"><circle cx="635.7" cy="362.7" r="2.83"/><circle cx="643.7" cy="345.1" r="2.15"/><circle cx="649.1" cy="340.3" r="1.47"/><circle cx="635.3" cy="334.7" r="1.25"/><circle cx="631.4" cy="369.0" r="1.47"/><circle cx="620.8" cy="378.5" r="1.93"/><circle cx="651.1" cy="378.2" r="1.70"/><circle cx="647.9" cy="385.1" r="1.70"/><circle cx="619.3" cy="395.4" r="2.38"/><circle cx="623.0" cy="399.0" r="1.70"/><circle cx="612.5" cy="397.4" r="1.47"/><circle cx="629.0" cy="350.1" r="1.02"/><circle cx="610.4" cy="364.0" r="0.79"/><circle cx="659.0" cy="375.3" r="1.02"/><circle cx="615.6" cy="369.8" r="1.02"/><circle cx="616.4" cy="355.6" r="0.57"/></g>
<g fill="#ff9a3a" filter="url(#bl)"><circle cx="635.7" cy="362.7" r="0.99"/><circle cx="643.7" cy="345.1" r="0.75"/><circle cx="620.8" cy="378.5" r="0.67"/><circle cx="619.3" cy="395.4" r="0.83"/></g>
<line x1="584.1" y1="324.4" x2="614.8" y2="324.4" stroke="#ccc" stroke-width="1"/>
<line x1="625.1" y1="326.8" x2="630.5" y2="330.5" stroke="#f2e82a" stroke-width="1.9"/>
<polygon points="633.3,332.5 628.7,332.3 631.5,328.2" fill="#f2e82a"/>
<line x1="630.6" y1="340.6" x2="637.1" y2="342.3" stroke="#f2e82a" stroke-width="1.9"/>
<polygon points="640.4,343.2 636.0,344.6 637.2,339.8" fill="#f2e82a"/>
<line x1="625.1" y1="353.3" x2="630.4" y2="356.6" stroke="#f2e82a" stroke-width="1.9"/>
<polygon points="633.3,358.5 628.7,358.5 631.3,354.3" fill="#f2e82a"/>
<line x1="620.8" y1="359.9" x2="626.5" y2="363.4" stroke="#f2e82a" stroke-width="1.9"/>
<polygon points="629.3,365.2 624.7,365.3 627.4,361.1" fill="#f2e82a"/>
<line x1="610.6" y1="368.7" x2="616.2" y2="372.1" stroke="#f2e82a" stroke-width="1.9"/>
<polygon points="619.1,373.9 614.5,374.0 617.1,369.7" fill="#f2e82a"/>
<line x1="609.3" y1="386.4" x2="615.0" y2="389.6" stroke="#f2e82a" stroke-width="1.9"/>
<polygon points="618.0,391.3 613.4,391.5 615.8,387.2" fill="#f2e82a"/>
<line x1="601.1" y1="399.0" x2="607.3" y2="396.5" stroke="#f2e82a" stroke-width="1.9"/>
<polygon points="610.4,395.2 607.8,399.0 605.9,394.4" fill="#f2e82a"/>
<line x1="644.0" y1="401.4" x2="640.3" y2="396.4" stroke="#f2e82a" stroke-width="1.9"/>
<polygon points="638.3,393.6 642.7,395.3 638.6,398.2" fill="#f2e82a"/>
<line x1="645.6" y1="394.3" x2="646.9" y2="388.6" stroke="#f2e82a" stroke-width="1.9"/>
<polygon points="647.6,385.3 649.2,389.6 644.3,388.5" fill="#f2e82a"/>
<text x="651.9" y="330.4" font-size="8.8" font-weight="bold" fill="#ece32c" textLength="28.8" lengthAdjust="spacingAndGlyphs">MERGE</text>
<rect x="84.8" y="335.6" width="17.6" height="19.8" fill="#3be410" stroke="#000" stroke-width="1.3"/>
<rect x="112.2" y="323.7" width="17.6" height="31.7" fill="#3be410" stroke="#000" stroke-width="1.3"/>
<rect x="139.6" y="297.1" width="17.3" height="58.3" fill="#3be410" stroke="#000" stroke-width="1.3"/>
<rect x="185.1" y="328.0" width="17.6" height="27.4" fill="#6fb4f6" stroke="#000" stroke-width="1.3"/>
<rect x="212.8" y="313.8" width="17.5" height="41.6" fill="#6fb4f6" stroke="#000" stroke-width="1.3"/>
<rect x="239.9" y="248.3" width="17.6" height="107.1" fill="#6fb4f6" stroke="#000" stroke-width="1.3"/>
<line x1="71.5" y1="196.0" x2="71.5" y2="356.0" stroke="#000" stroke-width="1.3"/>
<line x1="66.5" y1="355.4" x2="271.3" y2="355.4" stroke="#000" stroke-width="1.3"/>
<line x1="65.5" y1="355.4" x2="71.5" y2="355.4" stroke="#000" stroke-width="1.3"/>
<text x="62.5" y="359.4" font-size="11.3" text-anchor="end">0</text>
<line x1="65.5" y1="315.8" x2="71.5" y2="315.8" stroke="#000" stroke-width="1.3"/>
<text x="62.5" y="319.8" font-size="11.3" text-anchor="end">1</text>
<line x1="65.5" y1="276.1" x2="71.5" y2="276.1" stroke="#000" stroke-width="1.3"/>
<text x="62.5" y="280.1" font-size="11.3" text-anchor="end">2</text>
<line x1="65.5" y1="236.4" x2="71.5" y2="236.4" stroke="#000" stroke-width="1.3"/>
<text x="62.5" y="240.4" font-size="11.3" text-anchor="end">3</text>
<line x1="65.5" y1="196.8" x2="71.5" y2="196.8" stroke="#000" stroke-width="1.3"/>
<text x="62.5" y="200.8" font-size="11.3" text-anchor="end">4</text>
<line x1="93.5" y1="355.4" x2="93.5" y2="360.6" stroke="#000" stroke-width="1.3"/>
<text x="92.6" y="374.2" font-size="11.3" text-anchor="middle">0</text>
<line x1="121.0" y1="355.4" x2="121.0" y2="360.6" stroke="#000" stroke-width="1.3"/>
<text x="120.1" y="374.2" font-size="11.3" text-anchor="middle">0.2</text>
<line x1="148.3" y1="355.4" x2="148.3" y2="360.6" stroke="#000" stroke-width="1.3"/>
<text x="147.4" y="374.2" font-size="11.3" text-anchor="middle">0.5</text>
<line x1="193.8" y1="355.4" x2="193.8" y2="360.6" stroke="#000" stroke-width="1.3"/>
<text x="192.9" y="374.2" font-size="11.3" text-anchor="middle">0</text>
<line x1="221.4" y1="355.4" x2="221.4" y2="360.6" stroke="#000" stroke-width="1.3"/>
<text x="220.5" y="374.2" font-size="11.3" text-anchor="middle">0.2</text>
<line x1="248.7" y1="355.4" x2="248.7" y2="360.6" stroke="#000" stroke-width="1.3"/>
<text x="247.8" y="374.2" font-size="11.3" text-anchor="middle">0.5</text>
<text x="139.1" y="396.7" font-size="12.8" font-weight="bold">RHPS4 <tspan font-family="'Liberation Serif', serif" font-weight="normal" font-size="13">μ</tspan>M</text>
<text x="39.5" y="273" font-size="12.6" text-anchor="middle" textLength="146" lengthAdjust="spacingAndGlyphs" transform="rotate(-90 39.5 273)">BLM-TRF1/TRF2 coloc.</text>
<line x1="93.5" y1="322.0" x2="93.5" y2="348.5" stroke="#000" stroke-width="1.4"/>
<line x1="88.5" y1="322.0" x2="98.5" y2="322.0" stroke="#000" stroke-width="1.4"/>
<line x1="88.5" y1="348.5" x2="98.5" y2="348.5" stroke="#000" stroke-width="1.4"/>
<line x1="121.0" y1="312.6" x2="121.0" y2="332.2" stroke="#000" stroke-width="1.4"/>
<line x1="116.0" y1="312.6" x2="126.0" y2="312.6" stroke="#000" stroke-width="1.4"/>
<line x1="116.0" y1="332.2" x2="126.0" y2="332.2" stroke="#000" stroke-width="1.4"/>
<line x1="148.3" y1="267.1" x2="148.3" y2="326.1" stroke="#000" stroke-width="1.4"/>
<line x1="143.3" y1="267.1" x2="153.3" y2="267.1" stroke="#000" stroke-width="1.4"/>
<line x1="143.3" y1="326.1" x2="153.3" y2="326.1" stroke="#000" stroke-width="1.4"/>
<line x1="193.8" y1="325.5" x2="193.8" y2="330.0" stroke="#000" stroke-width="1.4"/>
<line x1="190.3" y1="325.5" x2="197.3" y2="325.5" stroke="#000" stroke-width="1.4"/>
<line x1="190.3" y1="330.0" x2="197.3" y2="330.0" stroke="#000" stroke-width="1.4"/>
<line x1="221.4" y1="304.4" x2="221.4" y2="322.0" stroke="#000" stroke-width="1.4"/>
<line x1="217.4" y1="304.4" x2="225.4" y2="304.4" stroke="#000" stroke-width="1.4"/>
<line x1="217.4" y1="322.0" x2="225.4" y2="322.0" stroke="#000" stroke-width="1.4"/>
<line x1="248.7" y1="239.8" x2="248.7" y2="256.0" stroke="#000" stroke-width="1.4"/>
<line x1="244.7" y1="239.8" x2="252.7" y2="239.8" stroke="#000" stroke-width="1.4"/>
<line x1="244.7" y1="256.0" x2="252.7" y2="256.0" stroke="#000" stroke-width="1.4"/>
<rect x="90.4" y="316.4" width="5.8" height="5.8" fill="none" stroke="#3aa51c" stroke-width="1.3"/>
<rect x="84.9" y="341.8" width="5.8" height="5.8" fill="none" stroke="#3aa51c" stroke-width="1.3"/>
<rect x="96.1" y="339.1" width="5.8" height="5.8" fill="none" stroke="#3aa51c" stroke-width="1.3"/>
<rect x="118.1" y="305.9" width="5.8" height="5.8" fill="none" stroke="#3aa51c" stroke-width="1.3"/>
<rect x="112.1" y="320.5" width="5.8" height="5.8" fill="none" stroke="#3aa51c" stroke-width="1.3"/>
<rect x="112.6" y="327.7" width="5.8" height="5.8" fill="none" stroke="#3aa51c" stroke-width="1.3"/>
<rect x="123.9" y="324.0" width="5.8" height="5.8" fill="none" stroke="#3aa51c" stroke-width="1.3"/>
<rect x="145.1" y="253.7" width="5.8" height="5.8" fill="none" stroke="#3aa51c" stroke-width="1.3"/>
<rect x="145.1" y="294.4" width="5.8" height="5.8" fill="none" stroke="#3aa51c" stroke-width="1.3"/>
<rect x="145.1" y="302.1" width="5.8" height="5.8" fill="none" stroke="#3aa51c" stroke-width="1.3"/>
<rect x="145.1" y="324.7" width="5.8" height="5.8" fill="none" stroke="#3aa51c" stroke-width="1.3"/>
<circle cx="187.6" cy="329.4" r="3.0" fill="none" stroke="#1c1cb4" stroke-width="1.3"/>
<circle cx="193.9" cy="325.9" r="3.0" fill="none" stroke="#1c1cb4" stroke-width="1.3"/>
<circle cx="200.2" cy="325.9" r="3.0" fill="none" stroke="#1c1cb4" stroke-width="1.3"/>
<circle cx="221.3" cy="304.4" r="3.0" fill="none" stroke="#1c1cb4" stroke-width="1.3"/>
<circle cx="221.3" cy="313.9" r="3.0" fill="none" stroke="#1c1cb4" stroke-width="1.3"/>
<circle cx="221.3" cy="322.0" r="3.0" fill="none" stroke="#1c1cb4" stroke-width="1.3"/>
<circle cx="248.6" cy="239.8" r="3.0" fill="none" stroke="#1c1cb4" stroke-width="1.3"/>
<circle cx="248.6" cy="247.3" r="3.0" fill="none" stroke="#1c1cb4" stroke-width="1.3"/>
<circle cx="248.6" cy="256.1" r="3.0" fill="none" stroke="#1c1cb4" stroke-width="1.3"/>
<rect x="78.0" y="188.8" width="6.0" height="6.0" fill="none" stroke="#3aa51c" stroke-width="1.3"/>
<circle cx="81.0" cy="210.9" r="3.0" fill="none" stroke="#1c1cb4" stroke-width="1.3"/>
<text x="99.0" y="196.3" font-size="12.4" textLength="64.0" lengthAdjust="spacingAndGlyphs">BLM-TRF1</text>
<text x="99.0" y="215.2" font-size="12.4" textLength="64.0" lengthAdjust="spacingAndGlyphs">BLM-TRF2</text>
<path d="M93.4 306.3V234H148V250.3" fill="none" stroke="#000" stroke-width="1.4"/>
<text x="120.6" y="234.5" font-size="12" text-anchor="middle">*</text>
<path d="M193.5 317V215.7H249.2V231.5" fill="none" stroke="#000" stroke-width="1.4"/>
<text x="221.5" y="216.2" font-size="12" text-anchor="middle">**</text>
<line x1="66.3" y1="482.4" x2="66.3" y2="633.5" stroke="#000" stroke-width="1.5"/>
<line x1="65.5" y1="632.8" x2="290.9" y2="632.8" stroke="#000" stroke-width="1.5"/>
<line x1="61.0" y1="632.8" x2="66.3" y2="632.8" stroke="#000" stroke-width="1.5"/>
<text x="58.5" y="636.8" font-size="11.3" text-anchor="end">0.0</text>
<line x1="61.0" y1="607.8" x2="66.3" y2="607.8" stroke="#000" stroke-width="1.5"/>
<text x="58.5" y="611.8" font-size="11.3" text-anchor="end">0.2</text>
<line x1="61.0" y1="582.9" x2="66.3" y2="582.9" stroke="#000" stroke-width="1.5"/>
<text x="58.5" y="586.9" font-size="11.3" text-anchor="end">0.4</text>
<line x1="61.0" y1="558.0" x2="66.3" y2="558.0" stroke="#000" stroke-width="1.5"/>
<text x="58.5" y="562.0" font-size="11.3" text-anchor="end">0.6</text>
<line x1="61.0" y1="533.0" x2="66.3" y2="533.0" stroke="#000" stroke-width="1.5"/>
<text x="58.5" y="537.0" font-size="11.3" text-anchor="end">0.8</text>
<line x1="61.0" y1="508.1" x2="66.3" y2="508.1" stroke="#000" stroke-width="1.5"/>
<text x="58.5" y="512.0" font-size="11.3" text-anchor="end">1.0</text>
<line x1="61.0" y1="483.1" x2="66.3" y2="483.1" stroke="#000" stroke-width="1.5"/>
<text x="58.5" y="487.1" font-size="11.3" text-anchor="end">1.2</text>
<line x1="66.3" y1="632.8" x2="66.3" y2="638.0" stroke="#000" stroke-width="1.5"/>
<text x="65.9" y="649.7" font-size="11.3" text-anchor="middle">0.0</text>
<line x1="122.3" y1="632.8" x2="122.3" y2="638.0" stroke="#000" stroke-width="1.5"/>
<text x="121.9" y="649.7" font-size="11.3" text-anchor="middle">0.5</text>
<line x1="178.2" y1="632.8" x2="178.2" y2="638.0" stroke="#000" stroke-width="1.5"/>
<text x="177.8" y="649.7" font-size="11.3" text-anchor="middle">1.0</text>
<line x1="234.2" y1="632.8" x2="234.2" y2="638.0" stroke="#000" stroke-width="1.5"/>
<text x="233.8" y="649.7" font-size="11.3" text-anchor="middle">1.5</text>
<line x1="290.2" y1="632.8" x2="290.2" y2="638.0" stroke="#000" stroke-width="1.5"/>
<text x="289.8" y="649.7" font-size="11.3" text-anchor="middle">2.0</text>
<text x="31.5" y="557.3" font-size="12.4" font-weight="bold" text-anchor="middle" textLength="144.5" lengthAdjust="spacingAndGlyphs" transform="rotate(-90 31.5 557.3)">Cell fraction (normalized)</text>
<text x="178.0" y="666.3" font-size="12.3" font-weight="bold" text-anchor="middle">RHPS4 <tspan font-family="'Liberation Serif', serif" font-weight="normal" font-size="13">μ</tspan>M</text>
<path d="M66.3 501.4L68.5 503.1L70.8 505.4L73.0 507.8L75.3 510.4L77.5 513.1L79.7 515.8L82.0 518.5L84.2 521.2L86.5 524.0L88.7 526.7L90.9 529.4L93.2 532.1L95.4 534.7L97.6 537.3L99.9 539.8L102.1 542.3L104.4 544.7L106.6 547.1L108.8 549.4L111.1 551.7L113.3 553.9L115.6 556.1L117.8 558.2L120.0 560.2L122.3 562.2L124.5 564.1L126.8 566.0L129.0 567.8L131.2 569.6L133.5 571.3L135.7 572.9L137.9 574.5L140.2 576.1L142.4 577.6L144.7 579.0L146.9 580.4L149.1 581.7L151.4 583.1L153.6 584.3L155.9 585.5L158.1 586.7L160.3 587.8L162.6 588.9L164.8 590.0L167.1 591.0L169.3 592.0L171.5 592.9L173.8 593.8L176.0 594.7L178.2 595.5L180.5 596.3L182.7 597.1L185.0 597.9L187.2 598.6L189.4 599.3L191.7 599.9L193.9 600.6L196.2 601.2L198.4 601.8L200.6 602.4L202.9 602.9L205.1 603.4L207.4 603.9L209.6 604.4L211.8 604.9L214.1 605.3L216.3 605.7L218.6 606.2L220.8 606.5L223.0 606.9L225.3 607.3L227.5 607.6L229.7 608.0L232.0 608.3L234.2 608.6L236.5 608.9L238.7 609.2L240.9 609.4L243.2 609.7L245.4 609.9L247.7 610.2L249.9 610.4L252.1 610.6L254.4 610.8L256.6 611.0L258.9 611.2L261.1 611.4L263.3 611.6L265.6 611.8L267.8 611.9L270.0 612.1L272.3 612.2L274.5 612.4L276.8 612.5L279.0 612.6L281.2 612.8L283.5 612.9L285.7 613.0L288.0 613.1L290.2 613.2" fill="none" stroke="#f4301c" stroke-width="1.5"/>
<path d="M66.3 512.6L68.5 513.4L70.8 514.7L73.0 516.3L75.3 518.2L77.5 520.3L79.7 522.5L82.0 524.7L84.2 527.1L86.5 529.6L88.7 532.0L90.9 534.5L93.2 537.0L95.4 539.5L97.6 542.0L99.9 544.5L102.1 547.0L104.4 549.4L106.6 551.8L108.8 554.1L111.1 556.4L113.3 558.7L115.6 560.9L117.8 563.1L120.0 565.2L122.3 567.2L124.5 569.2L126.8 571.2L129.0 573.1L131.2 574.9L133.5 576.7L135.7 578.4L137.9 580.1L140.2 581.7L142.4 583.3L144.7 584.9L146.9 586.3L149.1 587.8L151.4 589.1L153.6 590.5L155.9 591.8L158.1 593.0L160.3 594.2L162.6 595.4L164.8 596.5L167.1 597.6L169.3 598.7L171.5 599.7L173.8 600.7L176.0 601.6L178.2 602.6L180.5 603.5L182.7 604.3L185.0 605.1L187.2 605.9L189.4 606.7L191.7 607.5L193.9 608.2L196.2 608.9L198.4 609.5L200.6 610.2L202.9 610.8L205.1 611.4L207.4 612.0L209.6 612.6L211.8 613.1L214.1 613.7L216.3 614.2L218.6 614.7L220.8 615.2L223.0 615.6L225.3 616.1L227.5 616.5L229.7 616.9L232.0 617.3L234.2 617.7L236.5 618.1L238.7 618.5L240.9 618.8L243.2 619.2L245.4 619.5L247.7 619.8L249.9 620.1L252.1 620.4L254.4 620.7L256.6 621.0L258.9 621.3L261.1 621.6L263.3 621.8L265.6 622.1L267.8 622.3L270.0 622.6L272.3 622.8L274.5 623.0L276.8 623.2L279.0 623.4L281.2 623.6L283.5 623.8L285.7 624.0L288.0 624.2L290.2 624.4" fill="none" stroke="#2a22f2" stroke-width="1.5"/>
<line x1="66.3" y1="493.9" x2="66.3" y2="504.5" stroke="#f4301c" stroke-width="1.8"/>
<line x1="62.3" y1="493.9" x2="70.3" y2="493.9" stroke="#f4301c" stroke-width="1.8"/>
<line x1="62.3" y1="504.5" x2="70.3" y2="504.5" stroke="#f4301c" stroke-width="1.8"/>
<rect x="63.6" y="496.9" width="5.4" height="5.4" fill="#f4301c" stroke="#f4301c" stroke-width="0"/>
<line x1="77.5" y1="500.0" x2="77.5" y2="511.5" stroke="#f4301c" stroke-width="1.8"/>
<line x1="73.5" y1="500.0" x2="81.5" y2="500.0" stroke="#f4301c" stroke-width="1.8"/>
<line x1="73.5" y1="511.5" x2="81.5" y2="511.5" stroke="#f4301c" stroke-width="1.8"/>
<rect x="74.8" y="505.0" width="5.4" height="5.4" fill="#f4301c" stroke="#f4301c" stroke-width="0"/>
<line x1="88.7" y1="518.2" x2="88.7" y2="522.2" stroke="#f4301c" stroke-width="1.8"/>
<line x1="84.7" y1="518.2" x2="92.7" y2="518.2" stroke="#f4301c" stroke-width="1.8"/>
<line x1="84.7" y1="522.2" x2="92.7" y2="522.2" stroke="#f4301c" stroke-width="1.8"/>
<rect x="86.0" y="517.3" width="5.4" height="5.4" fill="#f4301c" stroke="#f4301c" stroke-width="0"/>
<line x1="122.1" y1="552.0" x2="122.1" y2="566.0" stroke="#f4301c" stroke-width="1.8"/>
<line x1="118.1" y1="552.0" x2="126.1" y2="552.0" stroke="#f4301c" stroke-width="1.8"/>
<line x1="118.1" y1="566.0" x2="126.1" y2="566.0" stroke="#f4301c" stroke-width="1.8"/>
<rect x="119.4" y="561.3" width="5.4" height="5.4" fill="#f4301c" stroke="#f4301c" stroke-width="0"/>
<line x1="178.1" y1="585.6" x2="178.1" y2="606.4" stroke="#f4301c" stroke-width="1.8"/>
<line x1="174.1" y1="585.6" x2="182.1" y2="585.6" stroke="#f4301c" stroke-width="1.8"/>
<line x1="174.1" y1="606.4" x2="182.1" y2="606.4" stroke="#f4301c" stroke-width="1.8"/>
<rect x="175.4" y="592.3" width="5.4" height="5.4" fill="#f4301c" stroke="#f4301c" stroke-width="0"/>
<line x1="290.3" y1="607.7" x2="290.3" y2="615.4" stroke="#f4301c" stroke-width="1.8"/>
<line x1="286.3" y1="607.7" x2="294.3" y2="607.7" stroke="#f4301c" stroke-width="1.8"/>
<line x1="286.3" y1="615.4" x2="294.3" y2="615.4" stroke="#f4301c" stroke-width="1.8"/>
<rect x="287.6" y="609.0" width="5.4" height="5.4" fill="#f4301c" stroke="#f4301c" stroke-width="0"/>
<line x1="66.3" y1="489.6" x2="66.3" y2="541.1" stroke="#2a22f2" stroke-width="1.8"/>
<line x1="62.3" y1="489.6" x2="70.3" y2="489.6" stroke="#2a22f2" stroke-width="1.8"/>
<line x1="62.3" y1="541.1" x2="70.3" y2="541.1" stroke="#2a22f2" stroke-width="1.8"/>
<circle cx="66.3" cy="508.0" r="2.8" fill="#2a22f2" stroke="#2a22f2" stroke-width="0"/>
<line x1="77.5" y1="504.7" x2="77.5" y2="555.9" stroke="#2a22f2" stroke-width="1.8"/>
<line x1="73.5" y1="504.7" x2="81.5" y2="504.7" stroke="#2a22f2" stroke-width="1.8"/>
<line x1="73.5" y1="555.9" x2="81.5" y2="555.9" stroke="#2a22f2" stroke-width="1.8"/>
<circle cx="77.5" cy="530.3" r="2.8" fill="#2a22f2" stroke="#2a22f2" stroke-width="0"/>
<line x1="88.7" y1="493.1" x2="88.7" y2="546.6" stroke="#2a22f2" stroke-width="1.8"/>
<line x1="84.7" y1="493.1" x2="92.7" y2="493.1" stroke="#2a22f2" stroke-width="1.8"/>
<line x1="84.7" y1="546.6" x2="92.7" y2="546.6" stroke="#2a22f2" stroke-width="1.8"/>
<circle cx="88.7" cy="520.2" r="2.8" fill="#2a22f2" stroke="#2a22f2" stroke-width="0"/>
<line x1="122.1" y1="554.1" x2="122.1" y2="579.8" stroke="#2a22f2" stroke-width="1.8"/>
<line x1="118.1" y1="554.1" x2="126.1" y2="554.1" stroke="#2a22f2" stroke-width="1.8"/>
<line x1="118.1" y1="579.8" x2="126.1" y2="579.8" stroke="#2a22f2" stroke-width="1.8"/>
<circle cx="122.1" cy="566.2" r="2.8" fill="#2a22f2" stroke="#2a22f2" stroke-width="0"/>
<line x1="178.1" y1="599.4" x2="178.1" y2="614.0" stroke="#2a22f2" stroke-width="1.8"/>
<line x1="174.1" y1="599.4" x2="182.1" y2="599.4" stroke="#2a22f2" stroke-width="1.8"/>
<line x1="174.1" y1="614.0" x2="182.1" y2="614.0" stroke="#2a22f2" stroke-width="1.8"/>
<circle cx="178.1" cy="606.4" r="2.8" fill="#2a22f2" stroke="#2a22f2" stroke-width="0"/>
<line x1="290.3" y1="619.8" x2="290.3" y2="623.2" stroke="#2a22f2" stroke-width="1.8"/>
<line x1="286.3" y1="619.8" x2="294.3" y2="619.8" stroke="#2a22f2" stroke-width="1.8"/>
<line x1="286.3" y1="623.2" x2="294.3" y2="623.2" stroke="#2a22f2" stroke-width="1.8"/>
<circle cx="290.3" cy="621.5" r="2.8" fill="#2a22f2" stroke="#2a22f2" stroke-width="0"/>
<circle cx="67.4" cy="515.2" r="2.8" fill="#2a22f2" stroke="#2a22f2" stroke-width="0"/>
<line x1="218.5" y1="488.3" x2="235.8" y2="488.3" stroke="#2a22f2" stroke-width="1.3"/>
<circle cx="227.2" cy="488.3" r="2.8" fill="#2a22f2" stroke="#2a22f2" stroke-width="0"/>
<line x1="218.5" y1="503.2" x2="235.8" y2="503.2" stroke="#f4301c" stroke-width="1.3"/>
<rect x="224.3" y="500.4" width="5.6" height="5.6" fill="#f4301c" stroke="#f4301c" stroke-width="0"/>
<text x="244.1" y="492.6" font-size="12">U251MG</text>
<text x="244.1" y="508.0" font-size="12" font-weight="bold">BLM<tspan dy="-4.5" font-size="8.5">-/-</tspan></text>
<line x1="419.5" y1="482.8" x2="419.5" y2="634.6" stroke="#000" stroke-width="1.5"/>
<line x1="418.8" y1="633.9" x2="644.5" y2="633.9" stroke="#000" stroke-width="1.5"/>
<line x1="414.2" y1="633.9" x2="419.5" y2="633.9" stroke="#000" stroke-width="1.5"/>
<text x="412.0" y="637.9" font-size="11.3" text-anchor="end">0.0</text>
<line x1="414.2" y1="608.8" x2="419.5" y2="608.8" stroke="#000" stroke-width="1.5"/>
<text x="412.0" y="612.8" font-size="11.3" text-anchor="end">0.2</text>
<line x1="414.2" y1="583.8" x2="419.5" y2="583.8" stroke="#000" stroke-width="1.5"/>
<text x="412.0" y="587.8" font-size="11.3" text-anchor="end">0.4</text>
<line x1="414.2" y1="558.7" x2="419.5" y2="558.7" stroke="#000" stroke-width="1.5"/>
<text x="412.0" y="562.7" font-size="11.3" text-anchor="end">0.6</text>
<line x1="414.2" y1="533.6" x2="419.5" y2="533.6" stroke="#000" stroke-width="1.5"/>
<text x="412.0" y="537.6" font-size="11.3" text-anchor="end">0.8</text>
<line x1="414.2" y1="508.6" x2="419.5" y2="508.6" stroke="#000" stroke-width="1.5"/>
<text x="412.0" y="512.6" font-size="11.3" text-anchor="end">1.0</text>
<line x1="414.2" y1="483.5" x2="419.5" y2="483.5" stroke="#000" stroke-width="1.5"/>
<text x="412.0" y="487.5" font-size="11.3" text-anchor="end">1.2</text>
<line x1="419.5" y1="633.9" x2="419.5" y2="639.1" stroke="#000" stroke-width="1.5"/>
<text x="419.1" y="650.8" font-size="11.3" text-anchor="middle">0</text>
<line x1="464.4" y1="633.9" x2="464.4" y2="639.1" stroke="#000" stroke-width="1.5"/>
<text x="464.0" y="650.8" font-size="11.3" text-anchor="middle">1</text>
<line x1="509.2" y1="633.9" x2="509.2" y2="639.1" stroke="#000" stroke-width="1.5"/>
<text x="508.8" y="650.8" font-size="11.3" text-anchor="middle">2</text>
<line x1="554.0" y1="633.9" x2="554.0" y2="639.1" stroke="#000" stroke-width="1.5"/>
<text x="553.6" y="650.8" font-size="11.3" text-anchor="middle">3</text>
<line x1="598.9" y1="633.9" x2="598.9" y2="639.1" stroke="#000" stroke-width="1.5"/>
<text x="598.5" y="650.8" font-size="11.3" text-anchor="middle">4</text>
<line x1="643.8" y1="633.9" x2="643.8" y2="639.1" stroke="#000" stroke-width="1.5"/>
<text x="643.4" y="650.8" font-size="11.3" text-anchor="middle">5</text>
<text x="384.2" y="558.8" font-size="12.4" font-weight="bold" text-anchor="middle" textLength="144.5" lengthAdjust="spacingAndGlyphs" transform="rotate(-90 384.2 558.8)">Cell fraction (normalized)</text>
<text x="531.0" y="666.6" font-size="12.3" font-weight="bold" text-anchor="middle">MMC <tspan font-family="'Liberation Serif', serif" font-weight="normal" font-size="13">μ</tspan>M</text>
<path d="M419.5 518.5L421.7 521.4L424.0 524.2L426.2 526.8L428.5 529.4L430.7 531.9L433.0 534.3L435.2 536.6L437.4 538.9L439.7 541.0L441.9 543.1L444.2 545.2L446.4 547.1L448.7 549.0L450.9 550.9L453.1 552.7L455.4 554.4L457.6 556.1L459.9 557.7L462.1 559.3L464.4 560.8L466.6 562.3L468.8 563.7L471.1 565.1L473.3 566.5L475.6 567.8L477.8 569.1L480.0 570.3L482.3 571.5L484.5 572.6L486.8 573.8L489.0 574.9L491.3 575.9L493.5 576.9L495.7 577.9L498.0 578.9L500.2 579.8L502.5 580.7L504.7 581.6L507.0 582.4L509.2 583.3L511.4 584.1L513.7 584.8L515.9 585.6L518.2 586.3L520.4 587.0L522.7 587.7L524.9 588.4L527.1 589.0L529.4 589.6L531.6 590.2L533.9 590.8L536.1 591.4L538.4 592.0L540.6 592.5L542.8 593.0L545.1 593.5L547.3 594.0L549.6 594.5L551.8 594.9L554.0 595.4L556.3 595.8L558.5 596.3L560.8 596.7L563.0 597.1L565.3 597.4L567.5 597.8L569.7 598.2L572.0 598.5L574.2 598.9L576.5 599.2L578.7 599.5L581.0 599.8L583.2 600.1L585.4 600.4L587.7 600.7L589.9 601.0L592.2 601.2L594.4 601.5L596.7 601.8L598.9 602.0L601.1 602.2L603.4 602.5L605.6 602.7L607.9 602.9L610.1 603.1L612.4 603.3L614.6 603.5L616.8 603.7L619.1 603.9L621.3 604.1L623.6 604.3L625.8 604.4L628.1 604.6L630.3 604.8L632.5 604.9L634.8 605.1L637.0 605.2L639.3 605.3L641.5 605.5L643.8 605.6" fill="none" stroke="#f4301c" stroke-width="1.5"/>
<path d="M419.5 507.6L421.7 507.6L424.0 507.6L426.2 507.6L428.5 507.7L430.7 507.7L433.0 507.7L435.2 507.8L437.4 507.9L439.7 508.1L441.9 508.2L444.2 508.5L446.4 508.8L448.7 509.1L450.9 509.6L453.1 510.1L455.4 510.7L457.6 511.3L459.9 512.1L462.1 513.0L464.4 514.0L466.6 515.0L468.8 516.2L471.1 517.6L473.3 519.0L475.6 520.6L477.8 522.3L480.0 524.1L482.3 526.0L484.5 528.0L486.8 530.1L489.0 532.4L491.3 534.7L493.5 537.1L495.7 539.6L498.0 542.2L500.2 544.8L502.5 547.4L504.7 550.1L507.0 552.8L509.2 555.5L511.4 558.2L513.7 560.8L515.9 563.5L518.2 566.0L520.4 568.5L522.7 570.9L524.9 573.3L527.1 575.5L529.4 577.7L531.6 579.7L533.9 581.6L536.1 583.4L538.4 585.1L540.6 586.7L542.8 588.1L545.1 589.4L547.3 590.7L549.6 591.8L551.8 592.8L554.0 593.7L556.3 594.5L558.5 595.2L560.8 595.9L563.0 596.4L565.3 596.9L567.5 597.4L569.7 597.7L572.0 598.1L574.2 598.3L576.5 598.6L578.7 598.8L581.0 599.0L583.2 599.1L585.4 599.2L587.7 599.3L589.9 599.4L592.2 599.5L594.4 599.5L596.7 599.6L598.9 599.6L601.1 599.7L603.4 599.7L605.6 599.7L607.9 599.7L610.1 599.7L612.4 599.7L614.6 599.8L616.8 599.8L619.1 599.8L621.3 599.8L623.6 599.8L625.8 599.8L628.1 599.8L630.3 599.8L632.5 599.8L634.8 599.8L637.0 599.8L639.3 599.8L641.5 599.8L643.8 599.8" fill="none" stroke="#2a22f2" stroke-width="1.5"/>
<line x1="419.5" y1="496.6" x2="419.5" y2="513.9" stroke="#f4301c" stroke-width="1.8"/>
<line x1="415.5" y1="496.6" x2="423.5" y2="496.6" stroke="#f4301c" stroke-width="1.8"/>
<line x1="415.5" y1="513.9" x2="423.5" y2="513.9" stroke="#f4301c" stroke-width="1.8"/>
<rect x="416.8" y="502.4" width="5.4" height="5.4" fill="#f4301c" stroke="#f4301c" stroke-width="0"/>
<line x1="423.8" y1="518.9" x2="423.8" y2="550.3" stroke="#f4301c" stroke-width="1.8"/>
<line x1="419.8" y1="518.9" x2="427.8" y2="518.9" stroke="#f4301c" stroke-width="1.8"/>
<line x1="419.8" y1="550.3" x2="427.8" y2="550.3" stroke="#f4301c" stroke-width="1.8"/>
<rect x="421.1" y="532.2" width="5.4" height="5.4" fill="#f4301c" stroke="#f4301c" stroke-width="0"/>
<line x1="441.9" y1="539.7" x2="441.9" y2="561.7" stroke="#f4301c" stroke-width="1.8"/>
<line x1="437.9" y1="539.7" x2="445.9" y2="539.7" stroke="#f4301c" stroke-width="1.8"/>
<line x1="437.9" y1="561.7" x2="445.9" y2="561.7" stroke="#f4301c" stroke-width="1.8"/>
<rect x="439.2" y="547.6" width="5.4" height="5.4" fill="#f4301c" stroke="#f4301c" stroke-width="0"/>
<line x1="464.2" y1="549.8" x2="464.2" y2="562.8" stroke="#f4301c" stroke-width="1.8"/>
<line x1="460.2" y1="549.8" x2="468.2" y2="549.8" stroke="#f4301c" stroke-width="1.8"/>
<line x1="460.2" y1="562.8" x2="468.2" y2="562.8" stroke="#f4301c" stroke-width="1.8"/>
<rect x="461.5" y="553.4" width="5.4" height="5.4" fill="#f4301c" stroke="#f4301c" stroke-width="0"/>
<line x1="509.1" y1="575.0" x2="509.1" y2="586.7" stroke="#f4301c" stroke-width="1.8"/>
<line x1="505.1" y1="575.0" x2="513.1" y2="575.0" stroke="#f4301c" stroke-width="1.8"/>
<line x1="505.1" y1="586.7" x2="513.1" y2="586.7" stroke="#f4301c" stroke-width="1.8"/>
<rect x="506.4" y="578.2" width="5.4" height="5.4" fill="#f4301c" stroke="#f4301c" stroke-width="0"/>
<line x1="643.7" y1="596.0" x2="643.7" y2="607.4" stroke="#f4301c" stroke-width="1.8"/>
<line x1="639.7" y1="596.0" x2="647.7" y2="596.0" stroke="#f4301c" stroke-width="1.8"/>
<line x1="639.7" y1="607.4" x2="647.7" y2="607.4" stroke="#f4301c" stroke-width="1.8"/>
<rect x="641.0" y="600.5" width="5.4" height="5.4" fill="#f4301c" stroke="#f4301c" stroke-width="0"/>
<line x1="423.8" y1="495.8" x2="423.8" y2="507.2" stroke="#2a22f2" stroke-width="1.8"/>
<line x1="419.8" y1="495.8" x2="427.8" y2="495.8" stroke="#2a22f2" stroke-width="1.8"/>
<line x1="419.8" y1="507.2" x2="427.8" y2="507.2" stroke="#2a22f2" stroke-width="1.8"/>
<circle cx="423.8" cy="501.6" r="2.8" fill="#2a22f2" stroke="#2a22f2" stroke-width="0"/>
<line x1="441.9" y1="497.9" x2="441.9" y2="511.7" stroke="#2a22f2" stroke-width="1.8"/>
<line x1="437.9" y1="497.9" x2="445.9" y2="497.9" stroke="#2a22f2" stroke-width="1.8"/>
<line x1="437.9" y1="511.7" x2="445.9" y2="511.7" stroke="#2a22f2" stroke-width="1.8"/>
<circle cx="441.9" cy="505.1" r="2.8" fill="#2a22f2" stroke="#2a22f2" stroke-width="0"/>
<line x1="464.2" y1="517.0" x2="464.2" y2="523.7" stroke="#2a22f2" stroke-width="1.8"/>
<line x1="460.2" y1="517.0" x2="468.2" y2="517.0" stroke="#2a22f2" stroke-width="1.8"/>
<line x1="460.2" y1="523.7" x2="468.2" y2="523.7" stroke="#2a22f2" stroke-width="1.8"/>
<circle cx="464.2" cy="520.2" r="2.8" fill="#2a22f2" stroke="#2a22f2" stroke-width="0"/>
<line x1="509.1" y1="548.2" x2="509.1" y2="558.3" stroke="#2a22f2" stroke-width="1.8"/>
<line x1="505.1" y1="548.2" x2="513.1" y2="548.2" stroke="#2a22f2" stroke-width="1.8"/>
<line x1="505.1" y1="558.3" x2="513.1" y2="558.3" stroke="#2a22f2" stroke-width="1.8"/>
<circle cx="509.1" cy="553.5" r="2.8" fill="#2a22f2" stroke="#2a22f2" stroke-width="0"/>
<line x1="643.7" y1="596.8" x2="643.7" y2="602.2" stroke="#2a22f2" stroke-width="1.8"/>
<line x1="639.7" y1="596.8" x2="647.7" y2="596.8" stroke="#2a22f2" stroke-width="1.8"/>
<line x1="639.7" y1="602.2" x2="647.7" y2="602.2" stroke="#2a22f2" stroke-width="1.8"/>
<circle cx="643.7" cy="599.5" r="2.8" fill="#2a22f2" stroke="#2a22f2" stroke-width="0"/>
<circle cx="419.5" cy="508.5" r="2.8" fill="#2a22f2" stroke="#2a22f2" stroke-width="0"/>
<line x1="572.0" y1="489.3" x2="588.8" y2="489.3" stroke="#2a22f2" stroke-width="1.3"/>
<circle cx="580.4" cy="489.3" r="2.8" fill="#2a22f2" stroke="#2a22f2" stroke-width="0"/>
<line x1="572.0" y1="504.1" x2="588.8" y2="504.1" stroke="#f4301c" stroke-width="1.3"/>
<rect x="577.6" y="501.3" width="5.6" height="5.6" fill="#f4301c" stroke="#f4301c" stroke-width="0"/>
<text x="597.6" y="493.6" font-size="12">U251MG</text>
<text x="597.6" y="509.0" font-size="12" font-weight="bold">BLM<tspan dy="-4.5" font-size="8.5">-/-</tspan></text>
<line x1="62.3" y1="721.0" x2="62.3" y2="868.2" stroke="#000" stroke-width="1.5"/>
<line x1="61.5" y1="867.5" x2="282.9" y2="867.5" stroke="#000" stroke-width="1.5"/>
<line x1="57.0" y1="867.5" x2="62.3" y2="867.5" stroke="#000" stroke-width="1.5"/>
<text x="56.6" y="871.5" font-size="11.3" text-anchor="end">0</text>
<line x1="57.0" y1="818.9" x2="62.3" y2="818.9" stroke="#000" stroke-width="1.5"/>
<text x="56.6" y="822.9" font-size="11.3" text-anchor="end">5</text>
<line x1="57.0" y1="770.4" x2="62.3" y2="770.4" stroke="#000" stroke-width="1.5"/>
<text x="56.6" y="774.4" font-size="11.3" text-anchor="end">10</text>
<line x1="57.0" y1="721.8" x2="62.3" y2="721.8" stroke="#000" stroke-width="1.5"/>
<text x="56.6" y="725.8" font-size="11.3" text-anchor="end">15</text>
<line x1="62.3" y1="867.5" x2="62.3" y2="872.7" stroke="#000" stroke-width="1.5"/>
<text x="62.3" y="884.8" font-size="11.3" text-anchor="middle">0</text>
<line x1="171.9" y1="867.5" x2="171.9" y2="872.7" stroke="#000" stroke-width="1.5"/>
<text x="171.9" y="884.8" font-size="11.3" text-anchor="middle">48</text>
<line x1="282.1" y1="867.5" x2="282.1" y2="872.7" stroke="#000" stroke-width="1.5"/>
<text x="282.1" y="884.8" font-size="11.3" text-anchor="middle">96</text>
<text x="32.3" y="795.0" font-size="12.4" font-weight="bold" text-anchor="middle" transform="rotate(-90 32.3 795.0)">cells x 10<tspan dy="-4.5" font-size="8.5">5</tspan></text>
<text x="171.9" y="900.8" font-size="12.5" text-anchor="middle">hours</text>
<polyline points="62.3,852.9 171.9,851.0 282.1,826.7" fill="none" stroke="#f2858a" stroke-width="1.4" stroke-dasharray="4.5 3"/>
<polyline points="62.3,852.9 171.9,840.5 282.1,772.3" fill="none" stroke="#f04048" stroke-width="1.4"/>
<polyline points="62.3,852.9 171.9,845.5 282.1,818.9" fill="none" stroke="#5b55f3" stroke-width="1.4" stroke-dasharray="4.5 3"/>
<polyline points="62.3,852.9 171.9,834.7 282.1,750.9" fill="none" stroke="#2a22f2" stroke-width="1.4"/>
<rect x="59.4" y="850.0" width="5.8" height="5.8" fill="none" stroke="#f2858a" stroke-width="1.2"/>
<line x1="61.1" y1="852.9" x2="63.5" y2="852.9" stroke="#f2858a" stroke-width="1"/>
<rect x="169.0" y="848.1" width="5.8" height="5.8" fill="none" stroke="#f2858a" stroke-width="1.2"/>
<line x1="170.7" y1="851.0" x2="173.1" y2="851.0" stroke="#f2858a" stroke-width="1"/>
<line x1="282.1" y1="823.8" x2="282.1" y2="829.6" stroke="#f2858a" stroke-width="1.5"/>
<line x1="278.9" y1="823.8" x2="285.4" y2="823.8" stroke="#f2858a" stroke-width="1.5"/>
<line x1="278.9" y1="829.6" x2="285.4" y2="829.6" stroke="#f2858a" stroke-width="1.5"/>
<rect x="279.2" y="823.8" width="5.8" height="5.8" fill="none" stroke="#f2858a" stroke-width="1.2"/>
<line x1="280.9" y1="826.7" x2="283.3" y2="826.7" stroke="#f2858a" stroke-width="1"/>
<rect x="59.2" y="849.8" width="6.2" height="6.2" fill="#f04048" stroke="#f04048" stroke-width="0"/>
<rect x="168.8" y="837.4" width="6.2" height="6.2" fill="#f04048" stroke="#f04048" stroke-width="0"/>
<line x1="282.1" y1="763.1" x2="282.1" y2="781.1" stroke="#f04048" stroke-width="1.5"/>
<line x1="278.9" y1="763.1" x2="285.4" y2="763.1" stroke="#f04048" stroke-width="1.5"/>
<line x1="278.9" y1="781.1" x2="285.4" y2="781.1" stroke="#f04048" stroke-width="1.5"/>
<rect x="279.0" y="769.2" width="6.2" height="6.2" fill="#f04048" stroke="#f04048" stroke-width="0"/>
<circle cx="62.3" cy="852.9" r="3.0" fill="none" stroke="#5b55f3" stroke-width="1.2"/>
<line x1="61.1" y1="852.9" x2="63.5" y2="852.9" stroke="#5b55f3" stroke-width="1"/>
<circle cx="171.9" cy="845.5" r="3.0" fill="none" stroke="#5b55f3" stroke-width="1.2"/>
<line x1="170.7" y1="845.5" x2="173.1" y2="845.5" stroke="#5b55f3" stroke-width="1"/>
<line x1="282.1" y1="814.1" x2="282.1" y2="823.8" stroke="#5b55f3" stroke-width="1.5"/>
<line x1="278.9" y1="814.1" x2="285.4" y2="814.1" stroke="#5b55f3" stroke-width="1.5"/>
<line x1="278.9" y1="823.8" x2="285.4" y2="823.8" stroke="#5b55f3" stroke-width="1.5"/>
<circle cx="282.1" cy="818.9" r="3.0" fill="none" stroke="#5b55f3" stroke-width="1.2"/>
<line x1="280.9" y1="818.9" x2="283.3" y2="818.9" stroke="#5b55f3" stroke-width="1"/>
<circle cx="62.3" cy="852.9" r="3.1" fill="#2a22f2" stroke="#2a22f2" stroke-width="0"/>
<line x1="171.9" y1="828.6" x2="171.9" y2="839.3" stroke="#2a22f2" stroke-width="1.5"/>
<line x1="168.7" y1="828.6" x2="175.2" y2="828.6" stroke="#2a22f2" stroke-width="1.5"/>
<line x1="168.7" y1="839.3" x2="175.2" y2="839.3" stroke="#2a22f2" stroke-width="1.5"/>
<circle cx="171.9" cy="834.7" r="3.1" fill="#2a22f2" stroke="#2a22f2" stroke-width="0"/>
<line x1="282.1" y1="739.3" x2="282.1" y2="763.1" stroke="#2a22f2" stroke-width="1.5"/>
<line x1="278.9" y1="739.3" x2="285.4" y2="739.3" stroke="#2a22f2" stroke-width="1.5"/>
<line x1="278.9" y1="763.1" x2="285.4" y2="763.1" stroke="#2a22f2" stroke-width="1.5"/>
<circle cx="282.1" cy="750.9" r="3.1" fill="#2a22f2" stroke="#2a22f2" stroke-width="0"/>
<line x1="65.8" y1="722.1" x2="80.9" y2="722.1" stroke="#2a22f2" stroke-width="1.4"/>
<circle cx="73.3" cy="722.1" r="3.1" fill="#2a22f2" stroke="#2a22f2" stroke-width="0"/>
<text x="90.4" y="725.6" font-size="10" font-weight="bold"><tspan textLength="38.4" lengthAdjust="spacingAndGlyphs">U251MG</tspan></text>
<line x1="65.8" y1="737.7" x2="80.9" y2="737.7" stroke="#5b55f3" stroke-width="1.4" stroke-dasharray="3.3 2.5"/>
<circle cx="73.3" cy="737.7" r="3.0" fill="#fff" stroke="#5b55f3" stroke-width="1.2"/>
<line x1="72.1" y1="737.7" x2="74.5" y2="737.7" stroke="#5b55f3" stroke-width="1"/>
<text x="90.4" y="741.0" font-size="10" font-weight="bold"><tspan textLength="75.2" lengthAdjust="spacingAndGlyphs">U251MG RHPS4</tspan></text>
<line x1="65.8" y1="752.2" x2="80.9" y2="752.2" stroke="#f04048" stroke-width="1.4"/>
<rect x="70.2" y="749.1" width="6.2" height="6.2" fill="#f04048" stroke="#f04048" stroke-width="0"/>
<text x="90.4" y="756.5" font-size="10" font-weight="bold">BLM<tspan dy="-4.3" font-size="7.6">-/-</tspan></text>
<line x1="65.8" y1="767.8" x2="80.9" y2="767.8" stroke="#f2858a" stroke-width="1.4" stroke-dasharray="3.3 2.5"/>
<rect x="70.4" y="764.9" width="5.8" height="5.8" fill="#fff" stroke="#f2858a" stroke-width="1.2"/>
<line x1="72.1" y1="767.8" x2="74.5" y2="767.8" stroke="#f2858a" stroke-width="1"/>
<text x="90.4" y="771.6" font-size="10" font-weight="bold">BLM<tspan dy="-4.3" font-size="7.6">-/-</tspan><tspan dy="4.3"> RHPS4</tspan></text>
<line x1="417.5" y1="721.1" x2="417.5" y2="866.5" stroke="#000" stroke-width="1.5"/>
<line x1="416.8" y1="865.8" x2="635.1" y2="865.8" stroke="#000" stroke-width="1.5"/>
<line x1="412.2" y1="865.8" x2="417.5" y2="865.8" stroke="#000" stroke-width="1.5"/>
<text x="412.4" y="869.8" font-size="11.3" text-anchor="end">0</text>
<line x1="412.2" y1="817.8" x2="417.5" y2="817.8" stroke="#000" stroke-width="1.5"/>
<text x="412.4" y="821.8" font-size="11.3" text-anchor="end">5</text>
<line x1="412.2" y1="769.9" x2="417.5" y2="769.9" stroke="#000" stroke-width="1.5"/>
<text x="412.4" y="773.9" font-size="11.3" text-anchor="end">10</text>
<line x1="412.2" y1="721.9" x2="417.5" y2="721.9" stroke="#000" stroke-width="1.5"/>
<text x="412.4" y="725.9" font-size="11.3" text-anchor="end">15</text>
<line x1="417.5" y1="865.8" x2="417.5" y2="871.0" stroke="#000" stroke-width="1.5"/>
<text x="417.5" y="883.1" font-size="11.3" text-anchor="middle">0</text>
<line x1="489.7" y1="865.8" x2="489.7" y2="871.0" stroke="#000" stroke-width="1.5"/>
<text x="489.7" y="883.1" font-size="11.3" text-anchor="middle">7</text>
<line x1="562.1" y1="865.8" x2="562.1" y2="871.0" stroke="#000" stroke-width="1.5"/>
<text x="562.1" y="883.1" font-size="11.3" text-anchor="middle">14</text>
<line x1="634.4" y1="865.8" x2="634.4" y2="871.0" stroke="#000" stroke-width="1.5"/>
<text x="634.4" y="883.1" font-size="11.3" text-anchor="middle">21</text>
<text x="384.3" y="793.0" font-size="12.4" font-weight="bold" text-anchor="middle" transform="rotate(-90 384.3 793.0)">cells x 10<tspan dy="-4.5" font-size="8.5">5</tspan></text>
<text x="526.0" y="894.4" font-size="12.5" text-anchor="middle">days</text>
<polyline points="417.5,865.8 489.7,853.3 562.1,820.2 634.4,788.6" fill="none" stroke="#f2858a" stroke-width="1.4" stroke-dasharray="4.5 3"/>
<polyline points="417.5,865.8 489.7,836.1 562.1,797.7 634.4,760.3" fill="none" stroke="#f04048" stroke-width="1.4"/>
<polyline points="417.5,865.8 489.7,848.1 562.1,820.7 634.4,785.7" fill="none" stroke="#5b55f3" stroke-width="1.4" stroke-dasharray="4.5 3"/>
<polyline points="417.5,865.8 489.7,834.1 562.1,804.9 634.4,763.2" fill="none" stroke="#2a22f2" stroke-width="1.4"/>
<rect x="414.6" y="862.9" width="5.8" height="5.8" fill="none" stroke="#f2858a" stroke-width="1.2"/>
<line x1="416.3" y1="865.8" x2="418.7" y2="865.8" stroke="#f2858a" stroke-width="1"/>
<line x1="489.7" y1="840.9" x2="489.7" y2="860.0" stroke="#f2858a" stroke-width="1.5"/>
<line x1="486.4" y1="840.9" x2="492.9" y2="840.9" stroke="#f2858a" stroke-width="1.5"/>
<line x1="486.4" y1="860.0" x2="492.9" y2="860.0" stroke="#f2858a" stroke-width="1.5"/>
<rect x="486.8" y="850.4" width="5.8" height="5.8" fill="none" stroke="#f2858a" stroke-width="1.2"/>
<line x1="488.5" y1="853.3" x2="490.9" y2="853.3" stroke="#f2858a" stroke-width="1"/>
<line x1="562.1" y1="814.0" x2="562.1" y2="827.4" stroke="#f2858a" stroke-width="1.5"/>
<line x1="558.9" y1="814.0" x2="565.4" y2="814.0" stroke="#f2858a" stroke-width="1.5"/>
<line x1="558.9" y1="827.4" x2="565.4" y2="827.4" stroke="#f2858a" stroke-width="1.5"/>
<rect x="559.2" y="817.3" width="5.8" height="5.8" fill="none" stroke="#f2858a" stroke-width="1.2"/>
<line x1="560.9" y1="820.2" x2="563.3" y2="820.2" stroke="#f2858a" stroke-width="1"/>
<line x1="634.4" y1="779.5" x2="634.4" y2="796.7" stroke="#f2858a" stroke-width="1.5"/>
<line x1="631.1" y1="779.5" x2="637.6" y2="779.5" stroke="#f2858a" stroke-width="1.5"/>
<line x1="631.1" y1="796.7" x2="637.6" y2="796.7" stroke="#f2858a" stroke-width="1.5"/>
<rect x="631.5" y="785.7" width="5.8" height="5.8" fill="none" stroke="#f2858a" stroke-width="1.2"/>
<line x1="633.2" y1="788.6" x2="635.6" y2="788.6" stroke="#f2858a" stroke-width="1"/>
<rect x="414.4" y="862.7" width="6.2" height="6.2" fill="#f04048" stroke="#f04048" stroke-width="0"/>
<line x1="489.7" y1="832.2" x2="489.7" y2="839.9" stroke="#f04048" stroke-width="1.5"/>
<line x1="486.4" y1="832.2" x2="492.9" y2="832.2" stroke="#f04048" stroke-width="1.5"/>
<line x1="486.4" y1="839.9" x2="492.9" y2="839.9" stroke="#f04048" stroke-width="1.5"/>
<rect x="486.6" y="833.0" width="6.2" height="6.2" fill="#f04048" stroke="#f04048" stroke-width="0"/>
<line x1="562.1" y1="793.8" x2="562.1" y2="801.5" stroke="#f04048" stroke-width="1.5"/>
<line x1="558.9" y1="793.8" x2="565.4" y2="793.8" stroke="#f04048" stroke-width="1.5"/>
<line x1="558.9" y1="801.5" x2="565.4" y2="801.5" stroke="#f04048" stroke-width="1.5"/>
<rect x="559.0" y="794.6" width="6.2" height="6.2" fill="#f04048" stroke="#f04048" stroke-width="0"/>
<line x1="634.4" y1="755.5" x2="634.4" y2="764.1" stroke="#f04048" stroke-width="1.5"/>
<line x1="631.1" y1="755.5" x2="637.6" y2="755.5" stroke="#f04048" stroke-width="1.5"/>
<line x1="631.1" y1="764.1" x2="637.6" y2="764.1" stroke="#f04048" stroke-width="1.5"/>
<rect x="631.3" y="757.2" width="6.2" height="6.2" fill="#f04048" stroke="#f04048" stroke-width="0"/>
<circle cx="417.5" cy="865.8" r="3.0" fill="none" stroke="#5b55f3" stroke-width="1.2"/>
<line x1="416.3" y1="865.8" x2="418.7" y2="865.8" stroke="#5b55f3" stroke-width="1"/>
<line x1="489.7" y1="838.9" x2="489.7" y2="857.2" stroke="#5b55f3" stroke-width="1.5"/>
<line x1="486.4" y1="838.9" x2="492.9" y2="838.9" stroke="#5b55f3" stroke-width="1.5"/>
<line x1="486.4" y1="857.2" x2="492.9" y2="857.2" stroke="#5b55f3" stroke-width="1.5"/>
<circle cx="489.7" cy="848.1" r="3.0" fill="none" stroke="#5b55f3" stroke-width="1.2"/>
<line x1="488.5" y1="848.1" x2="490.9" y2="848.1" stroke="#5b55f3" stroke-width="1"/>
<line x1="562.1" y1="805.4" x2="562.1" y2="836.1" stroke="#5b55f3" stroke-width="1.5"/>
<line x1="558.9" y1="805.4" x2="565.4" y2="805.4" stroke="#5b55f3" stroke-width="1.5"/>
<line x1="558.9" y1="836.1" x2="565.4" y2="836.1" stroke="#5b55f3" stroke-width="1.5"/>
<circle cx="562.1" cy="820.7" r="3.0" fill="none" stroke="#5b55f3" stroke-width="1.2"/>
<line x1="560.9" y1="820.7" x2="563.3" y2="820.7" stroke="#5b55f3" stroke-width="1"/>
<line x1="634.4" y1="771.3" x2="634.4" y2="799.1" stroke="#5b55f3" stroke-width="1.5"/>
<line x1="631.1" y1="771.3" x2="637.6" y2="771.3" stroke="#5b55f3" stroke-width="1.5"/>
<line x1="631.1" y1="799.1" x2="637.6" y2="799.1" stroke="#5b55f3" stroke-width="1.5"/>
<circle cx="634.4" cy="785.7" r="3.0" fill="none" stroke="#5b55f3" stroke-width="1.2"/>
<line x1="633.2" y1="785.7" x2="635.6" y2="785.7" stroke="#5b55f3" stroke-width="1"/>
<circle cx="417.5" cy="865.8" r="3.1" fill="#2a22f2" stroke="#2a22f2" stroke-width="0"/>
<line x1="489.7" y1="829.3" x2="489.7" y2="838.9" stroke="#2a22f2" stroke-width="1.5"/>
<line x1="486.4" y1="829.3" x2="492.9" y2="829.3" stroke="#2a22f2" stroke-width="1.5"/>
<line x1="486.4" y1="838.9" x2="492.9" y2="838.9" stroke="#2a22f2" stroke-width="1.5"/>
<circle cx="489.7" cy="834.1" r="3.1" fill="#2a22f2" stroke="#2a22f2" stroke-width="0"/>
<circle cx="562.1" cy="804.9" r="3.1" fill="#2a22f2" stroke="#2a22f2" stroke-width="0"/>
<line x1="634.4" y1="759.3" x2="634.4" y2="767.0" stroke="#2a22f2" stroke-width="1.5"/>
<line x1="631.1" y1="759.3" x2="637.6" y2="759.3" stroke="#2a22f2" stroke-width="1.5"/>
<line x1="631.1" y1="767.0" x2="637.6" y2="767.0" stroke="#2a22f2" stroke-width="1.5"/>
<circle cx="634.4" cy="763.2" r="3.1" fill="#2a22f2" stroke="#2a22f2" stroke-width="0"/>
<line x1="421.8" y1="722.4" x2="436.6" y2="722.4" stroke="#2a22f2" stroke-width="1.4"/>
<circle cx="429.2" cy="722.4" r="3.1" fill="#2a22f2" stroke="#2a22f2" stroke-width="0"/>
<text x="445.8" y="725.6" font-size="10" font-weight="bold"><tspan textLength="38.4" lengthAdjust="spacingAndGlyphs">U251MG</tspan></text>
<line x1="421.8" y1="736.1" x2="436.6" y2="736.1" stroke="#5b55f3" stroke-width="1.4" stroke-dasharray="3.3 2.5"/>
<circle cx="429.2" cy="736.1" r="3.0" fill="#fff" stroke="#5b55f3" stroke-width="1.2"/>
<line x1="428.0" y1="736.1" x2="430.4" y2="736.1" stroke="#5b55f3" stroke-width="1"/>
<text x="445.8" y="739.4" font-size="10" font-weight="bold"><tspan textLength="75.2" lengthAdjust="spacingAndGlyphs">U251MG RHPS4</tspan></text>
<line x1="421.8" y1="749.6" x2="436.6" y2="749.6" stroke="#f04048" stroke-width="1.4"/>
<rect x="426.1" y="746.5" width="6.2" height="6.2" fill="#f04048" stroke="#f04048" stroke-width="0"/>
<text x="445.8" y="752.9" font-size="10" font-weight="bold">BLM<tspan dy="-4.3" font-size="7.6">-/-</tspan></text>
<line x1="421.8" y1="763.2" x2="436.6" y2="763.2" stroke="#f2858a" stroke-width="1.4" stroke-dasharray="3.3 2.5"/>
<rect x="426.3" y="760.3" width="5.8" height="5.8" fill="#fff" stroke="#f2858a" stroke-width="1.2"/>
<line x1="428.0" y1="763.2" x2="430.4" y2="763.2" stroke="#f2858a" stroke-width="1"/>
<text x="445.8" y="767.0" font-size="10" font-weight="bold">BLM<tspan dy="-4.3" font-size="7.6">-/-</tspan><tspan dy="4.3"> RHPS4</tspan></text>
</svg>
</body></html>
